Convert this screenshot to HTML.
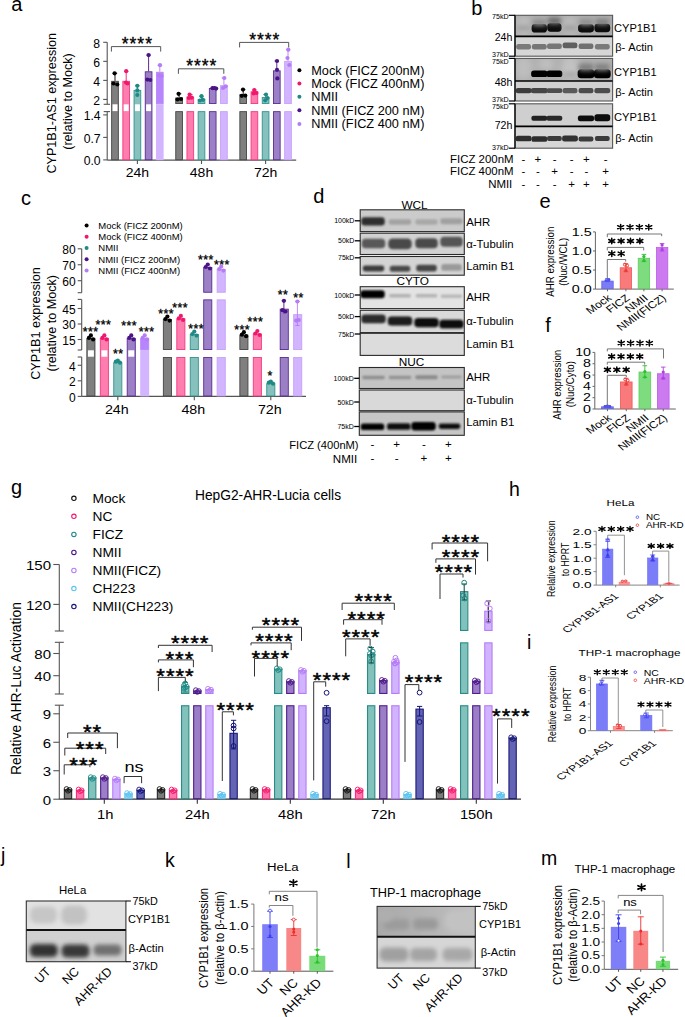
<!DOCTYPE html>
<html><head><meta charset="utf-8"><style>
html,body{margin:0;padding:0;background:#fff;}
svg{display:block;font-family:"Liberation Sans",sans-serif;}
</style></head><body>
<svg width="685" height="1017" viewBox="0 0 685 1017">
<defs>
<filter id="b1" x="-30%" y="-60%" width="160%" height="220%"><feGaussianBlur stdDeviation="1.2"/></filter>
<filter id="b2" x="-30%" y="-60%" width="160%" height="220%"><feGaussianBlur stdDeviation="0.8"/></filter>
<filter id="b4" x="-30%" y="-60%" width="160%" height="220%"><feGaussianBlur stdDeviation="0.55"/></filter>
<filter id="b5" x="-50%" y="-80%" width="200%" height="260%"><feGaussianBlur stdDeviation="3.5"/></filter>
<filter id="b3" x="-30%" y="-60%" width="160%" height="220%"><feGaussianBlur stdDeviation="2"/></filter>
</defs>
<rect width="685" height="1017" fill="#fff"/>
<text x="11.3" y="11.2" font-size="20">a</text>
<line x1="107.2" y1="42.3" x2="107.2" y2="104.3" stroke="#555" stroke-width="1.1"/>
<line x1="107.2" y1="111.6" x2="107.2" y2="159.9" stroke="#555" stroke-width="1.1"/>
<line x1="103.2" y1="42.3" x2="107.2" y2="42.3" stroke="#555" stroke-width="1.1"/>
<text x="100" y="47.5" font-size="12.2" text-anchor="end">8</text>
<line x1="103.2" y1="61.34" x2="107.2" y2="61.34" stroke="#555" stroke-width="1.1"/>
<text x="100" y="66.54" font-size="12.2" text-anchor="end">6</text>
<line x1="103.2" y1="80.38" x2="107.2" y2="80.38" stroke="#555" stroke-width="1.1"/>
<text x="100" y="85.58" font-size="12.2" text-anchor="end">4</text>
<line x1="103.2" y1="99.42" x2="107.2" y2="99.42" stroke="#555" stroke-width="1.1"/>
<text x="100" y="104.62" font-size="12.2" text-anchor="end">2</text>
<line x1="103.2" y1="114.9" x2="107.2" y2="114.9" stroke="#555" stroke-width="1.1"/>
<text x="100.6" y="120.3" font-size="12.2" text-anchor="end">1.4</text>
<line x1="103.2" y1="137.4" x2="107.2" y2="137.4" stroke="#555" stroke-width="1.1"/>
<text x="100.6" y="142.8" font-size="12.2" text-anchor="end">0.7</text>
<line x1="103.2" y1="159.9" x2="107.2" y2="159.9" stroke="#555" stroke-width="1.1"/>
<text x="100.6" y="165.3" font-size="12.2" text-anchor="end">0.0</text>
<line x1="103.7" y1="104.3" x2="110" y2="104.3" stroke="#555" stroke-width="1.1"/>
<line x1="103.7" y1="111.6" x2="110" y2="111.6" stroke="#555" stroke-width="1.1"/>
<line x1="107.2" y1="160.2" x2="296.2" y2="160.2" stroke="#555" stroke-width="1.2"/>
<rect x="111.65" y="81.31" width="6.7" height="78.44" fill="#7f7f7f" stroke="#454545" stroke-width="0.9"/>
<rect x="112.5" y="104.3" width="5" height="6.8" fill="#fff"/>
<line x1="115" y1="73.3" x2="115" y2="80.86" stroke="#000" stroke-width="0.9"/>
<line x1="112.8" y1="73.3" x2="117.2" y2="73.3" stroke="#000" stroke-width="0.9"/>
<circle cx="114.6" cy="73.3" r="2.1" fill="#000"/>
<circle cx="113.5" cy="83.5" r="2.1" fill="#000"/>
<circle cx="117.3" cy="84.5" r="2.1" fill="#000"/>
<rect x="122.85" y="81.31" width="6.7" height="78.44" fill="#ff7daf" stroke="#f23a80" stroke-width="0.9"/>
<rect x="123.7" y="104.3" width="5" height="6.8" fill="#fff"/>
<line x1="126.2" y1="71.2" x2="126.2" y2="80.86" stroke="#f0186a" stroke-width="0.9"/>
<line x1="124" y1="71.2" x2="128.4" y2="71.2" stroke="#f0186a" stroke-width="0.9"/>
<circle cx="126.2" cy="71.2" r="2.1" fill="#f0186a"/>
<circle cx="126" cy="82.5" r="2.1" fill="#f0186a"/>
<circle cx="127.5" cy="83.5" r="2.1" fill="#f0186a"/>
<rect x="134.05" y="90.35" width="6.7" height="69.4" fill="#86c1bd" stroke="#329390" stroke-width="0.9"/>
<rect x="134.9" y="104.3" width="5" height="6.8" fill="#fff"/>
<line x1="137.4" y1="85.8" x2="137.4" y2="89.9" stroke="#1f8a85" stroke-width="0.9"/>
<line x1="135.2" y1="85.8" x2="139.6" y2="85.8" stroke="#1f8a85" stroke-width="0.9"/>
<circle cx="137.3" cy="85.8" r="2.1" fill="#1f8a85"/>
<circle cx="137.3" cy="90.4" r="2.1" fill="#1f8a85"/>
<circle cx="137.3" cy="95" r="2.1" fill="#1f8a85"/>
<rect x="145.25" y="71.79" width="6.7" height="87.96" fill="#9c80c6" stroke="#5a2b95" stroke-width="0.9"/>
<rect x="146.1" y="104.3" width="5" height="6.8" fill="#fff"/>
<line x1="148.6" y1="55.1" x2="148.6" y2="71.34" stroke="#4a1486" stroke-width="0.9"/>
<line x1="146.4" y1="55.1" x2="150.8" y2="55.1" stroke="#4a1486" stroke-width="0.9"/>
<circle cx="148.6" cy="55.1" r="2.1" fill="#4a1486"/>
<circle cx="147.3" cy="79.6" r="2.1" fill="#4a1486"/>
<circle cx="150.3" cy="80" r="2.1" fill="#4a1486"/>
<rect x="156.45" y="72.26" width="6.7" height="31.49" fill="#b886fc" stroke="#b886fc" stroke-width="0.9"/>
<rect x="156" y="104.2" width="7.6" height="56" fill="#d3b4fe"/>
<line x1="159.8" y1="65.2" x2="159.8" y2="71.81" stroke="#b57cf6" stroke-width="0.9"/>
<line x1="157.6" y1="65.2" x2="162" y2="65.2" stroke="#b57cf6" stroke-width="0.9"/>
<circle cx="160" cy="65.2" r="2.1" fill="#b57cf6"/>
<circle cx="159" cy="75.5" r="2.1" fill="#b57cf6"/>
<circle cx="161.5" cy="76" r="2.1" fill="#b57cf6"/>
<line x1="137.4" y1="160.2" x2="137.4" y2="164" stroke="#555" stroke-width="1.1"/>
<text transform="translate(137.4 176.8) scale(1.08 1)" font-size="13" text-anchor="middle">24h</text>
<rect x="175.75" y="97.97" width="6.7" height="5.58" fill="#7f7f7f" stroke="#454545" stroke-width="0.9"/>
<rect x="175.75" y="111.65" width="6.7" height="48.1" fill="#7f7f7f" stroke="#454545" stroke-width="0.9"/>
<line x1="179.1" y1="93.8" x2="179.1" y2="97.52" stroke="#000" stroke-width="0.9"/>
<line x1="176.9" y1="93.8" x2="181.3" y2="93.8" stroke="#000" stroke-width="0.9"/>
<circle cx="178.6" cy="93.8" r="2.1" fill="#000"/>
<circle cx="177.5" cy="99.5" r="2.1" fill="#000"/>
<circle cx="181" cy="99" r="2.1" fill="#000"/>
<rect x="186.95" y="97.01" width="6.7" height="6.54" fill="#ff7daf" stroke="#f23a80" stroke-width="0.9"/>
<rect x="186.95" y="111.65" width="6.7" height="48.1" fill="#ff7daf" stroke="#f23a80" stroke-width="0.9"/>
<line x1="190.3" y1="94.5" x2="190.3" y2="96.56" stroke="#f0186a" stroke-width="0.9"/>
<line x1="188.1" y1="94.5" x2="192.5" y2="94.5" stroke="#f0186a" stroke-width="0.9"/>
<circle cx="189.6" cy="94.5" r="2.1" fill="#f0186a"/>
<circle cx="188.8" cy="98" r="2.1" fill="#f0186a"/>
<circle cx="191.6" cy="97.7" r="2.1" fill="#f0186a"/>
<rect x="198.15" y="99.39" width="6.7" height="4.16" fill="#86c1bd" stroke="#329390" stroke-width="0.9"/>
<rect x="198.15" y="111.65" width="6.7" height="48.1" fill="#86c1bd" stroke="#329390" stroke-width="0.9"/>
<line x1="201.5" y1="96.2" x2="201.5" y2="98.94" stroke="#1f8a85" stroke-width="0.9"/>
<line x1="199.3" y1="96.2" x2="203.7" y2="96.2" stroke="#1f8a85" stroke-width="0.9"/>
<circle cx="201.5" cy="96.2" r="2.1" fill="#1f8a85"/>
<circle cx="200" cy="100.5" r="2.1" fill="#1f8a85"/>
<circle cx="203" cy="99.8" r="2.1" fill="#1f8a85"/>
<rect x="209.35" y="88.45" width="6.7" height="15.1" fill="#9c80c6" stroke="#5a2b95" stroke-width="0.9"/>
<rect x="209.35" y="111.65" width="6.7" height="48.1" fill="#9c80c6" stroke="#5a2b95" stroke-width="0.9"/>
<line x1="212.7" y1="88" x2="212.7" y2="88" stroke="#4a1486" stroke-width="0.9"/>
<line x1="210.5" y1="88" x2="214.9" y2="88" stroke="#4a1486" stroke-width="0.9"/>
<circle cx="212.5" cy="88.2" r="2.1" fill="#4a1486"/>
<circle cx="214.5" cy="88" r="2.1" fill="#4a1486"/>
<circle cx="216.2" cy="88.6" r="2.1" fill="#4a1486"/>
<rect x="220.55" y="85.59" width="6.7" height="17.96" fill="#d3b4fe" stroke="#c6a2fa" stroke-width="0.9"/>
<rect x="220.55" y="111.65" width="6.7" height="48.1" fill="#d3b4fe" stroke="#c6a2fa" stroke-width="0.9"/>
<line x1="223.9" y1="78" x2="223.9" y2="85.14" stroke="#b57cf6" stroke-width="0.9"/>
<line x1="221.7" y1="78" x2="226.1" y2="78" stroke="#b57cf6" stroke-width="0.9"/>
<circle cx="224.3" cy="78" r="2.1" fill="#b57cf6"/>
<circle cx="223" cy="88" r="2.1" fill="#b57cf6"/>
<circle cx="225.7" cy="86.3" r="2.1" fill="#b57cf6"/>
<line x1="201.5" y1="160.2" x2="201.5" y2="164" stroke="#555" stroke-width="1.1"/>
<text transform="translate(201.5 176.8) scale(1.08 1)" font-size="13" text-anchor="middle">48h</text>
<rect x="239.85" y="94.63" width="6.7" height="8.92" fill="#7f7f7f" stroke="#454545" stroke-width="0.9"/>
<rect x="239.85" y="111.65" width="6.7" height="48.1" fill="#7f7f7f" stroke="#454545" stroke-width="0.9"/>
<line x1="243.2" y1="89.6" x2="243.2" y2="94.18" stroke="#000" stroke-width="0.9"/>
<line x1="241" y1="89.6" x2="245.4" y2="89.6" stroke="#000" stroke-width="0.9"/>
<circle cx="243" cy="89.6" r="2.1" fill="#000"/>
<circle cx="241.8" cy="95.8" r="2.1" fill="#000"/>
<circle cx="245.3" cy="95.6" r="2.1" fill="#000"/>
<rect x="251.05" y="91.78" width="6.7" height="11.77" fill="#ff7daf" stroke="#f23a80" stroke-width="0.9"/>
<rect x="251.05" y="111.65" width="6.7" height="48.1" fill="#ff7daf" stroke="#f23a80" stroke-width="0.9"/>
<line x1="254.4" y1="90" x2="254.4" y2="91.33" stroke="#f0186a" stroke-width="0.9"/>
<line x1="252.2" y1="90" x2="256.6" y2="90" stroke="#f0186a" stroke-width="0.9"/>
<circle cx="254.3" cy="90" r="2.1" fill="#f0186a"/>
<circle cx="253.5" cy="93.4" r="2.1" fill="#f0186a"/>
<circle cx="256.4" cy="93" r="2.1" fill="#f0186a"/>
<rect x="262.25" y="97.49" width="6.7" height="6.06" fill="#86c1bd" stroke="#329390" stroke-width="0.9"/>
<rect x="262.25" y="111.65" width="6.7" height="48.1" fill="#86c1bd" stroke="#329390" stroke-width="0.9"/>
<line x1="265.6" y1="94.5" x2="265.6" y2="97.04" stroke="#1f8a85" stroke-width="0.9"/>
<line x1="263.4" y1="94.5" x2="267.8" y2="94.5" stroke="#1f8a85" stroke-width="0.9"/>
<circle cx="266" cy="94.5" r="2.1" fill="#1f8a85"/>
<circle cx="267.5" cy="98" r="2.1" fill="#1f8a85"/>
<circle cx="265.2" cy="100.3" r="2.1" fill="#1f8a85"/>
<rect x="273.45" y="70.83" width="6.7" height="32.72" fill="#9c80c6" stroke="#5a2b95" stroke-width="0.9"/>
<rect x="273.45" y="111.65" width="6.7" height="48.1" fill="#9c80c6" stroke="#5a2b95" stroke-width="0.9"/>
<line x1="276.8" y1="61" x2="276.8" y2="70.38" stroke="#4a1486" stroke-width="0.9"/>
<line x1="274.6" y1="61" x2="279" y2="61" stroke="#4a1486" stroke-width="0.9"/>
<circle cx="277" cy="61" r="2.1" fill="#4a1486"/>
<circle cx="277" cy="69.8" r="2.1" fill="#4a1486"/>
<circle cx="277.3" cy="78.4" r="2.1" fill="#4a1486"/>
<rect x="284.65" y="61.31" width="6.7" height="42.24" fill="#d3b4fe" stroke="#c6a2fa" stroke-width="0.9"/>
<rect x="284.65" y="111.65" width="6.7" height="48.1" fill="#d3b4fe" stroke="#c6a2fa" stroke-width="0.9"/>
<line x1="288" y1="49.7" x2="288" y2="60.86" stroke="#b57cf6" stroke-width="0.9"/>
<line x1="285.8" y1="49.7" x2="290.2" y2="49.7" stroke="#b57cf6" stroke-width="0.9"/>
<circle cx="288.3" cy="49.7" r="2.1" fill="#b57cf6"/>
<circle cx="287.5" cy="58" r="2.1" fill="#b57cf6"/>
<circle cx="289.3" cy="65" r="2.1" fill="#b57cf6"/>
<line x1="265.6" y1="160.2" x2="265.6" y2="164" stroke="#555" stroke-width="1.1"/>
<text transform="translate(265.6 176.8) scale(1.08 1)" font-size="13" text-anchor="middle">72h</text>
<path d="M111.4 51.6V46.6H160.7V51.6" stroke="#555" stroke-width="1" fill="none"/>
<text x="121.74" y="50.15" font-size="17.5" stroke="#000" stroke-width="0.35" stroke-linejoin="round">*</text>
<text x="129.54" y="50.15" font-size="17.5" stroke="#000" stroke-width="0.35" stroke-linejoin="round">*</text>
<text x="137.34" y="50.15" font-size="17.5" stroke="#000" stroke-width="0.35" stroke-linejoin="round">*</text>
<text x="145.14" y="50.15" font-size="17.5" stroke="#000" stroke-width="0.35" stroke-linejoin="round">*</text>
<path d="M178.4 73.8V68.8H223.8V73.8" stroke="#555" stroke-width="1" fill="none"/>
<text x="186.19" y="72.35" font-size="17.5" stroke="#000" stroke-width="0.35" stroke-linejoin="round">*</text>
<text x="193.99" y="72.35" font-size="17.5" stroke="#000" stroke-width="0.35" stroke-linejoin="round">*</text>
<text x="201.79" y="72.35" font-size="17.5" stroke="#000" stroke-width="0.35" stroke-linejoin="round">*</text>
<text x="209.59" y="72.35" font-size="17.5" stroke="#000" stroke-width="0.35" stroke-linejoin="round">*</text>
<path d="M239.6 47.4V42.4H288.7V47.4" stroke="#555" stroke-width="1" fill="none"/>
<text x="249.19" y="45.95" font-size="17.5" stroke="#000" stroke-width="0.35" stroke-linejoin="round">*</text>
<text x="256.99" y="45.95" font-size="17.5" stroke="#000" stroke-width="0.35" stroke-linejoin="round">*</text>
<text x="264.79" y="45.95" font-size="17.5" stroke="#000" stroke-width="0.35" stroke-linejoin="round">*</text>
<text x="272.59" y="45.95" font-size="17.5" stroke="#000" stroke-width="0.35" stroke-linejoin="round">*</text>
<circle cx="299.4" cy="70.3" r="2" fill="#000"/>
<text transform="translate(311.2 74.7) scale(1.02 1)" font-size="12.5">Mock (FICZ 200nM)</text>
<circle cx="299.4" cy="83.5" r="2" fill="#f0186a"/>
<text transform="translate(311.2 87.9) scale(1.02 1)" font-size="12.5">Mock (FICZ 400nM)</text>
<circle cx="299.4" cy="96.7" r="2" fill="#1f8a85"/>
<text transform="translate(311.2 101.1) scale(1.02 1)" font-size="12.5">NMII</text>
<circle cx="299.4" cy="110.3" r="2" fill="#4a1486"/>
<text transform="translate(311.2 114.7) scale(1.02 1)" font-size="12.5">NMII (FICZ 200 nM)</text>
<circle cx="299.4" cy="124" r="2" fill="#b57cf6"/>
<text transform="translate(311.2 128.4) scale(1.02 1)" font-size="12.5">NMII (FICZ 400 nM)</text>
<text transform="translate(55.8 103.2) scale(1.05 1) rotate(-90)" font-size="12.6" text-anchor="middle">CYP1B1-AS1 expression</text>
<text transform="translate(72 101.5) scale(1.05 1) rotate(-90)" font-size="12.6" text-anchor="middle">(relative to Mock)</text>
<text x="471.2" y="15" font-size="20">b</text>
<clipPath id="c159"><rect x="515" y="15.3" width="97.6" height="21.1"/></clipPath>
<g clip-path="url(#c159)">
<rect x="515" y="15.3" width="97.6" height="21.1" fill="#ababab"/>
<rect x="515.2" y="15.2" width="16.8" height="21.6" rx="8.64" fill="#bdbdbd" filter="url(#b5)"/>
<rect x="561.6" y="15.2" width="16.8" height="21.6" rx="8.64" fill="#bababa" filter="url(#b5)"/>
<rect x="516.2" y="25" width="14.8" height="6" rx="2.4" fill="#a4a4a4" filter="url(#b3)"/>
<rect x="531.65" y="23.98" width="15.3" height="8.64" rx="3.46" fill="#080808" filter="url(#b4)"/>
<rect x="532.4" y="20" width="13.8" height="6" rx="2.4" fill="#8a8a8a" filter="url(#b3)"/>
<rect x="547.25" y="23.3" width="14.3" height="8.4" rx="3.36" fill="#080808" filter="url(#b4)"/>
<rect x="548" y="17.4" width="12.8" height="7.2" rx="2.88" fill="#6e6e6e" filter="url(#b3)"/>
<rect x="563.1" y="25.6" width="13.8" height="4.8" rx="1.92" fill="#a0a0a0" filter="url(#b3)"/>
<rect x="578.1" y="24.22" width="15.8" height="8.16" rx="3.26" fill="#080808" filter="url(#b4)"/>
<rect x="579.1" y="19.5" width="13.8" height="6" rx="2.4" fill="#8e8e8e" filter="url(#b3)"/>
<rect x="594.4" y="23.68" width="15.8" height="8.64" rx="3.46" fill="#080808" filter="url(#b4)"/>
<rect x="595.4" y="19" width="13.8" height="6" rx="2.4" fill="#808080" filter="url(#b3)"/>
</g>
<clipPath id="c175"><rect x="515" y="36.4" width="97.6" height="19.8"/></clipPath>
<g clip-path="url(#c175)">
<rect x="515" y="36.4" width="97.6" height="19.8" fill="#d6d6d6"/>
<rect x="516.2" y="44.04" width="14.8" height="5.52" rx="2.21" fill="#7a7a7a" filter="url(#b4)"/>
<rect x="531.9" y="44.04" width="14.8" height="5.52" rx="2.21" fill="#767676" filter="url(#b4)"/>
<rect x="547" y="43.54" width="14.8" height="5.52" rx="2.21" fill="#767676" filter="url(#b4)"/>
<rect x="562.6" y="42.42" width="14.8" height="5.76" rx="2.3" fill="#606060" filter="url(#b4)"/>
<rect x="578.6" y="43.54" width="14.8" height="5.52" rx="2.21" fill="#707070" filter="url(#b4)"/>
<rect x="594.9" y="44.04" width="14.8" height="5.52" rx="2.21" fill="#7a7a7a" filter="url(#b4)"/>
</g>
<clipPath id="c185"><rect x="515" y="58.4" width="97.6" height="22.6"/></clipPath>
<g clip-path="url(#c185)">
<rect x="515" y="58.4" width="97.6" height="22.6" fill="#aeaeae"/>
<rect x="514.7" y="56" width="17.8" height="24" rx="9.6" fill="#bebebe" filter="url(#b5)"/>
<rect x="561.1" y="56" width="17.8" height="24" rx="9.6" fill="#c2c2c2" filter="url(#b5)"/>
<rect x="538.4" y="58" width="15.8" height="12" rx="4.8" fill="#c0c0c0" filter="url(#b5)"/>
<rect x="531.15" y="70.5" width="16.3" height="6.6" rx="2.64" fill="#030303" filter="url(#b4)"/>
<rect x="546.5" y="70.5" width="15.8" height="6.6" rx="2.64" fill="#030303" filter="url(#b4)"/>
<rect x="563.6" y="72.2" width="12.8" height="4.2" rx="1.68" fill="#a6a6a6" filter="url(#b3)"/>
<rect x="577.6" y="69.3" width="16.8" height="9" rx="3.6" fill="#000" filter="url(#b4)"/>
<rect x="578.6" y="63.7" width="14.8" height="7.2" rx="2.88" fill="#7e7e7e" filter="url(#b3)"/>
<rect x="593.9" y="69.3" width="16.8" height="9" rx="3.6" fill="#000" filter="url(#b4)"/>
<rect x="594.9" y="63.7" width="14.8" height="7.2" rx="2.88" fill="#828282" filter="url(#b3)"/>
</g>
<clipPath id="c199"><rect x="515" y="81" width="97.6" height="20"/></clipPath>
<g clip-path="url(#c199)">
<rect x="515" y="81" width="97.6" height="20" fill="#d0d0d0"/>
<rect x="515.7" y="87.9" width="15.8" height="5.4" rx="2.16" fill="#3e3e3e" filter="url(#b4)"/>
<rect x="530.9" y="87.9" width="16.8" height="5.4" rx="2.16" fill="#444" filter="url(#b4)"/>
<rect x="546.5" y="88.2" width="15.8" height="4.8" rx="1.92" fill="#4e4e4e" filter="url(#b4)"/>
<rect x="562.6" y="87.9" width="14.8" height="5.4" rx="2.16" fill="#5a5a5a" filter="url(#b4)"/>
<rect x="578.6" y="87.9" width="14.8" height="5.4" rx="2.16" fill="#4e4e4e" filter="url(#b4)"/>
<rect x="594.4" y="87.9" width="15.8" height="5.4" rx="2.16" fill="#4e4e4e" filter="url(#b4)"/>
</g>
<clipPath id="c209"><rect x="515" y="103.8" width="97.6" height="22.5"/></clipPath>
<g clip-path="url(#c209)">
<rect x="515" y="103.8" width="97.6" height="22.5" fill="#cfcfcf"/>
<rect x="531.4" y="115.78" width="15.8" height="5.04" rx="2.02" fill="#222" filter="url(#b4)"/>
<rect x="546.5" y="115.78" width="15.8" height="5.04" rx="2.02" fill="#2a2a2a" filter="url(#b4)"/>
<rect x="577.85" y="115.42" width="16.3" height="5.76" rx="2.3" fill="#111" filter="url(#b4)"/>
<rect x="594.4" y="114.32" width="15.8" height="6.96" rx="2.78" fill="#080808" filter="url(#b4)"/>
</g>
<clipPath id="c217"><rect x="515" y="126.3" width="97.6" height="21.9"/></clipPath>
<g clip-path="url(#c217)">
<rect x="515" y="126.3" width="97.6" height="21.9" fill="#d6d6d6"/>
<rect x="515.7" y="135.84" width="15.8" height="5.52" rx="2.21" fill="#2e2e2e" filter="url(#b4)"/>
<rect x="531.4" y="136.34" width="15.8" height="5.52" rx="2.21" fill="#2e2e2e" filter="url(#b4)"/>
<rect x="547" y="136.08" width="14.8" height="5.04" rx="2.02" fill="#3a3a3a" filter="url(#b4)"/>
<rect x="562.1" y="135.6" width="15.8" height="6" rx="2.4" fill="#333" filter="url(#b4)"/>
<rect x="578.6" y="136.58" width="14.8" height="5.04" rx="2.02" fill="#3a3a3a" filter="url(#b4)"/>
<rect x="594.9" y="136.08" width="14.8" height="5.04" rx="2.02" fill="#3a3a3a" filter="url(#b4)"/>
</g>
<rect x="515" y="15.3" width="97.6" height="40.9" fill="none" stroke="#555" stroke-width="1.1"/>
<line x1="515" y1="15.3" x2="515" y2="56.2" stroke="#111" stroke-width="1.4"/>
<line x1="515" y1="36.4" x2="612.6" y2="36.4" stroke="#000" stroke-width="1.7"/>
<line x1="508.8" y1="15.3" x2="515" y2="15.3" stroke="#000" stroke-width="1.2"/>
<line x1="508.8" y1="56.2" x2="515" y2="56.2" stroke="#000" stroke-width="1.2"/>
<text x="508.6" y="19" font-size="7.1" text-anchor="end">75kD</text>
<text x="508.6" y="57.4" font-size="7.1" text-anchor="end">37kD</text>
<text x="512.4" y="40.8" font-size="10.6" text-anchor="end">24h</text>
<text x="614" y="31.85" font-size="11.1">CYP1B1</text>
<text x="615.2" y="51.3" font-size="11.1">β- Actin</text>
<rect x="515" y="58.4" width="97.6" height="42.6" fill="none" stroke="#555" stroke-width="1.1"/>
<line x1="515" y1="58.4" x2="515" y2="101" stroke="#111" stroke-width="1.4"/>
<line x1="515" y1="81" x2="612.6" y2="81" stroke="#000" stroke-width="1.7"/>
<line x1="508.8" y1="58.4" x2="515" y2="58.4" stroke="#000" stroke-width="1.2"/>
<line x1="508.8" y1="101" x2="515" y2="101" stroke="#000" stroke-width="1.2"/>
<text x="508.6" y="63.6" font-size="7.1" text-anchor="end">75kD</text>
<text x="508.6" y="102.2" font-size="7.1" text-anchor="end">37kD</text>
<text x="512.4" y="86.1" font-size="10.6" text-anchor="end">48h</text>
<text x="614" y="75.7" font-size="11.1">CYP1B1</text>
<text x="615.2" y="96" font-size="11.1">β- Actin</text>
<rect x="515" y="103.8" width="97.6" height="44.4" fill="none" stroke="#555" stroke-width="1.1"/>
<line x1="515" y1="103.8" x2="515" y2="148.2" stroke="#111" stroke-width="1.4"/>
<line x1="515" y1="126.3" x2="612.6" y2="126.3" stroke="#000" stroke-width="1.7"/>
<line x1="508.8" y1="103.8" x2="515" y2="103.8" stroke="#000" stroke-width="1.2"/>
<line x1="508.8" y1="148.2" x2="515" y2="148.2" stroke="#000" stroke-width="1.2"/>
<text x="508.6" y="109" font-size="7.1" text-anchor="end">75kD</text>
<text x="508.6" y="150.4" font-size="7.1" text-anchor="end">37kD</text>
<text x="512.4" y="129" font-size="10.6" text-anchor="end">72h</text>
<text x="614" y="121.05" font-size="11.1">CYP1B1</text>
<text x="615.2" y="142.25" font-size="11.1">β- Actin</text>
<text x="513.6" y="162.6" font-size="11.45" text-anchor="end">FICZ 200nM</text>
<text x="523.3" y="162.6" font-size="11.5" text-anchor="middle">-</text>
<text x="537.9" y="162.6" font-size="11.5" text-anchor="middle">+</text>
<text x="554.6" y="162.6" font-size="11.5" text-anchor="middle">-</text>
<text x="571.6" y="162.6" font-size="11.5" text-anchor="middle">-</text>
<text x="586.3" y="162.6" font-size="11.5" text-anchor="middle">+</text>
<text x="605.7" y="162.6" font-size="11.5" text-anchor="middle">-</text>
<text x="513.6" y="175.2" font-size="11.45" text-anchor="end">FICZ 400nM</text>
<text x="523.3" y="175.2" font-size="11.5" text-anchor="middle">-</text>
<text x="537.9" y="175.2" font-size="11.5" text-anchor="middle">-</text>
<text x="554.6" y="175.2" font-size="11.5" text-anchor="middle">+</text>
<text x="571.6" y="175.2" font-size="11.5" text-anchor="middle">-</text>
<text x="586.3" y="175.2" font-size="11.5" text-anchor="middle">-</text>
<text x="605.7" y="175.2" font-size="11.5" text-anchor="middle">+</text>
<text x="512.3" y="187.5" font-size="11.45" text-anchor="end">NMII</text>
<text x="523.3" y="187.5" font-size="11.5" text-anchor="middle">-</text>
<text x="537.9" y="187.5" font-size="11.5" text-anchor="middle">-</text>
<text x="554.6" y="187.5" font-size="11.5" text-anchor="middle">-</text>
<text x="571.6" y="187.5" font-size="11.5" text-anchor="middle">+</text>
<text x="586.3" y="187.5" font-size="11.5" text-anchor="middle">+</text>
<text x="605.7" y="187.5" font-size="11.5" text-anchor="middle">+</text>
<text x="20.9" y="205.2" font-size="20">c</text>
<line x1="81.7" y1="248.8" x2="81.7" y2="292.7" stroke="#555" stroke-width="1.1"/>
<line x1="81.7" y1="299.4" x2="81.7" y2="350" stroke="#555" stroke-width="1.1"/>
<line x1="81.7" y1="357" x2="81.7" y2="396.4" stroke="#555" stroke-width="1.1"/>
<line x1="77.7" y1="292.7" x2="81.7" y2="292.7" stroke="#555" stroke-width="1.1"/>
<line x1="77.7" y1="299.4" x2="81.7" y2="299.4" stroke="#555" stroke-width="1.1"/>
<line x1="77.7" y1="350" x2="81.7" y2="350" stroke="#555" stroke-width="1.1"/>
<line x1="77.7" y1="357" x2="81.7" y2="357" stroke="#555" stroke-width="1.1"/>
<line x1="77.7" y1="248.8" x2="81.7" y2="248.8" stroke="#555" stroke-width="1.1"/>
<text x="75.6" y="254.2" font-size="12" text-anchor="end">80</text>
<line x1="77.7" y1="264.75" x2="81.7" y2="264.75" stroke="#555" stroke-width="1.1"/>
<text x="75.6" y="270.15" font-size="12" text-anchor="end">70</text>
<line x1="77.7" y1="280.7" x2="81.7" y2="280.7" stroke="#555" stroke-width="1.1"/>
<text x="75.6" y="286.1" font-size="12" text-anchor="end">60</text>
<line x1="77.7" y1="308.51" x2="81.7" y2="308.51" stroke="#555" stroke-width="1.1"/>
<text x="75.6" y="313.91" font-size="12" text-anchor="end">45</text>
<line x1="77.7" y1="324" x2="81.7" y2="324" stroke="#555" stroke-width="1.1"/>
<text x="75.6" y="329.4" font-size="12" text-anchor="end">30</text>
<line x1="77.7" y1="339.5" x2="81.7" y2="339.5" stroke="#555" stroke-width="1.1"/>
<text x="75.6" y="344.9" font-size="12" text-anchor="end">15</text>
<line x1="77.7" y1="365.28" x2="81.7" y2="365.28" stroke="#555" stroke-width="1.1"/>
<text x="75.6" y="370.68" font-size="12" text-anchor="end">4</text>
<line x1="77.7" y1="380.84" x2="81.7" y2="380.84" stroke="#555" stroke-width="1.1"/>
<text x="75.6" y="386.24" font-size="12" text-anchor="end">2</text>
<line x1="77.7" y1="396.4" x2="81.7" y2="396.4" stroke="#555" stroke-width="1.1"/>
<text x="75.6" y="401.8" font-size="12" text-anchor="end">0</text>
<line x1="81.7" y1="396.4" x2="306" y2="396.4" stroke="#555" stroke-width="1.2"/>
<rect x="86.85" y="338.4" width="8.1" height="57.55" fill="#7f7f7f" stroke="#454545" stroke-width="0.9"/>
<rect x="87.9" y="350.3" width="6" height="6.4" fill="#fff"/>
<circle cx="88.9" cy="337.95" r="2.1" fill="#000"/>
<circle cx="93.1" cy="339.45" r="2.1" fill="#000"/>
<circle cx="90.9" cy="335.45" r="2.1" fill="#000"/>
<rect x="100.3" y="338.4" width="8.1" height="57.55" fill="#ff7daf" stroke="#f23a80" stroke-width="0.9"/>
<rect x="101.35" y="350.3" width="6" height="6.4" fill="#fff"/>
<circle cx="102.35" cy="337.95" r="2.1" fill="#f0186a"/>
<circle cx="106.55" cy="339.45" r="2.1" fill="#f0186a"/>
<circle cx="104.35" cy="335.45" r="2.1" fill="#f0186a"/>
<rect x="113.75" y="362.62" width="8.1" height="33.33" fill="#86c1bd" stroke="#329390" stroke-width="0.9"/>
<circle cx="115.8" cy="361.67" r="2.1" fill="#1f8a85"/>
<circle cx="120" cy="362.67" r="2.1" fill="#1f8a85"/>
<circle cx="117.8" cy="360.67" r="2.1" fill="#1f8a85"/>
<rect x="127.2" y="338.4" width="8.1" height="57.55" fill="#9c80c6" stroke="#5a2b95" stroke-width="0.9"/>
<rect x="128.25" y="350.3" width="6" height="6.4" fill="#fff"/>
<circle cx="129.25" cy="337.95" r="2.1" fill="#4a1486"/>
<circle cx="133.45" cy="339.45" r="2.1" fill="#4a1486"/>
<circle cx="131.25" cy="335.45" r="2.1" fill="#4a1486"/>
<rect x="140.65" y="338.4" width="8.1" height="11.15" fill="#b886fc" stroke="#b886fc" stroke-width="0.9"/>
<rect x="140.2" y="350" width="9" height="46.4" fill="#d3b4fe"/>
<circle cx="142.7" cy="337.95" r="2.1" fill="#b57cf6"/>
<circle cx="146.9" cy="339.45" r="2.1" fill="#b57cf6"/>
<circle cx="144.7" cy="335.45" r="2.1" fill="#b57cf6"/>
<line x1="117.8" y1="396.4" x2="117.8" y2="400.2" stroke="#555" stroke-width="1.1"/>
<text transform="translate(116.8 413.5) scale(1.08 1)" font-size="13.2" text-anchor="middle">24h</text>
<rect x="163.35" y="319.5" width="8.1" height="30.05" fill="#7f7f7f" stroke="#454545" stroke-width="0.9"/>
<rect x="163.35" y="357.45" width="8.1" height="38.5" fill="#7f7f7f" stroke="#454545" stroke-width="0.9"/>
<circle cx="165.4" cy="319.05" r="2.1" fill="#000"/>
<circle cx="169.6" cy="320.55" r="2.1" fill="#000"/>
<circle cx="167.4" cy="316.55" r="2.1" fill="#000"/>
<rect x="176.8" y="318.88" width="8.1" height="30.67" fill="#ff7daf" stroke="#f23a80" stroke-width="0.9"/>
<rect x="176.8" y="357.45" width="8.1" height="38.5" fill="#ff7daf" stroke="#f23a80" stroke-width="0.9"/>
<circle cx="178.85" cy="318.43" r="2.1" fill="#f0186a"/>
<circle cx="183.05" cy="319.93" r="2.1" fill="#f0186a"/>
<circle cx="180.85" cy="315.93" r="2.1" fill="#f0186a"/>
<rect x="190.25" y="334.48" width="8.1" height="15.07" fill="#86c1bd" stroke="#329390" stroke-width="0.9"/>
<rect x="190.25" y="357.45" width="8.1" height="38.5" fill="#86c1bd" stroke="#329390" stroke-width="0.9"/>
<circle cx="192.3" cy="334.03" r="2.1" fill="#1f8a85"/>
<circle cx="196.5" cy="335.53" r="2.1" fill="#1f8a85"/>
<circle cx="194.3" cy="331.53" r="2.1" fill="#1f8a85"/>
<rect x="203.7" y="267.43" width="8.1" height="24.82" fill="#9c80c6" stroke="#5a2b95" stroke-width="0.9"/>
<rect x="203.7" y="299.85" width="8.1" height="49.7" fill="#9c80c6" stroke="#5a2b95" stroke-width="0.9"/>
<rect x="203.7" y="357.45" width="8.1" height="38.5" fill="#9c80c6" stroke="#5a2b95" stroke-width="0.9"/>
<circle cx="205.75" cy="266.98" r="2.1" fill="#4a1486"/>
<circle cx="209.95" cy="268.48" r="2.1" fill="#4a1486"/>
<circle cx="207.75" cy="264.48" r="2.1" fill="#4a1486"/>
<rect x="217.15" y="269.51" width="8.1" height="22.74" fill="#d3b4fe" stroke="#c6a2fa" stroke-width="0.9"/>
<rect x="217.15" y="299.85" width="8.1" height="49.7" fill="#d3b4fe" stroke="#c6a2fa" stroke-width="0.9"/>
<rect x="217.15" y="357.45" width="8.1" height="38.5" fill="#d3b4fe" stroke="#c6a2fa" stroke-width="0.9"/>
<circle cx="219.2" cy="269.06" r="2.1" fill="#b57cf6"/>
<circle cx="223.4" cy="270.56" r="2.1" fill="#b57cf6"/>
<circle cx="221.2" cy="266.56" r="2.1" fill="#b57cf6"/>
<line x1="194.3" y1="396.4" x2="194.3" y2="400.2" stroke="#555" stroke-width="1.1"/>
<text transform="translate(193.3 413.5) scale(1.08 1)" font-size="13.2" text-anchor="middle">48h</text>
<rect x="239.85" y="335.09" width="8.1" height="14.46" fill="#7f7f7f" stroke="#454545" stroke-width="0.9"/>
<rect x="239.85" y="357.45" width="8.1" height="38.5" fill="#7f7f7f" stroke="#454545" stroke-width="0.9"/>
<circle cx="241.9" cy="334.64" r="2.1" fill="#000"/>
<circle cx="246.1" cy="336.14" r="2.1" fill="#000"/>
<circle cx="243.9" cy="332.14" r="2.1" fill="#000"/>
<rect x="253.3" y="333.96" width="8.1" height="15.59" fill="#ff7daf" stroke="#f23a80" stroke-width="0.9"/>
<rect x="253.3" y="357.45" width="8.1" height="38.5" fill="#ff7daf" stroke="#f23a80" stroke-width="0.9"/>
<circle cx="255.35" cy="333.51" r="2.1" fill="#f0186a"/>
<circle cx="259.55" cy="335.01" r="2.1" fill="#f0186a"/>
<circle cx="257.35" cy="331.01" r="2.1" fill="#f0186a"/>
<rect x="266.75" y="383.62" width="8.1" height="12.33" fill="#86c1bd" stroke="#329390" stroke-width="0.9"/>
<circle cx="268.8" cy="382.67" r="2.1" fill="#1f8a85"/>
<circle cx="273" cy="383.67" r="2.1" fill="#1f8a85"/>
<circle cx="270.8" cy="381.67" r="2.1" fill="#1f8a85"/>
<rect x="280.2" y="309.17" width="8.1" height="40.38" fill="#9c80c6" stroke="#5a2b95" stroke-width="0.9"/>
<rect x="280.2" y="357.45" width="8.1" height="38.5" fill="#9c80c6" stroke="#5a2b95" stroke-width="0.9"/>
<rect x="293.65" y="314.64" width="8.1" height="34.91" fill="#d3b4fe" stroke="#c6a2fa" stroke-width="0.9"/>
<rect x="293.65" y="357.45" width="8.1" height="38.5" fill="#d3b4fe" stroke="#c6a2fa" stroke-width="0.9"/>
<line x1="270.8" y1="396.4" x2="270.8" y2="400.2" stroke="#555" stroke-width="1.1"/>
<text transform="translate(269.8 413.5) scale(1.08 1)" font-size="13.2" text-anchor="middle">72h</text>
<line x1="283.9" y1="300.8" x2="283.9" y2="313.7" stroke="#4a1486" stroke-width="0.9"/>
<line x1="281.7" y1="300.8" x2="286.1" y2="300.8" stroke="#4a1486" stroke-width="0.9"/>
<line x1="297.4" y1="301.5" x2="297.4" y2="325.5" stroke="#b57cf6" stroke-width="0.9"/>
<line x1="295.2" y1="301.5" x2="299.6" y2="301.5" stroke="#b57cf6" stroke-width="0.9"/>
<line x1="295.2" y1="325.5" x2="299.6" y2="325.5" stroke="#b57cf6" stroke-width="0.9"/>
<circle cx="283.9" cy="300.8" r="2.1" fill="#4a1486"/>
<circle cx="282.5" cy="310.2" r="2.1" fill="#4a1486"/>
<circle cx="285.5" cy="311.5" r="2.1" fill="#4a1486"/>
<circle cx="297.4" cy="301.5" r="2.1" fill="#b57cf6"/>
<circle cx="296.2" cy="320.6" r="2.1" fill="#b57cf6"/>
<circle cx="298.8" cy="320" r="2.1" fill="#b57cf6"/>
<text x="82.64" y="336.44" font-size="12.3" stroke="#000" stroke-width="0.3" stroke-linejoin="round">*</text>
<text x="87.9" y="336.44" font-size="12.3" stroke="#000" stroke-width="0.3" stroke-linejoin="round">*</text>
<text x="93.16" y="336.44" font-size="12.3" stroke="#000" stroke-width="0.3" stroke-linejoin="round">*</text>
<text x="95.54" y="329.04" font-size="12.3" stroke="#000" stroke-width="0.3" stroke-linejoin="round">*</text>
<text x="100.8" y="329.04" font-size="12.3" stroke="#000" stroke-width="0.3" stroke-linejoin="round">*</text>
<text x="106.06" y="329.04" font-size="12.3" stroke="#000" stroke-width="0.3" stroke-linejoin="round">*</text>
<text x="113.07" y="357.54" font-size="12.3" stroke="#000" stroke-width="0.3" stroke-linejoin="round">*</text>
<text x="118.33" y="357.54" font-size="12.3" stroke="#000" stroke-width="0.3" stroke-linejoin="round">*</text>
<text x="121.14" y="330.24" font-size="12.3" stroke="#000" stroke-width="0.3" stroke-linejoin="round">*</text>
<text x="126.4" y="330.24" font-size="12.3" stroke="#000" stroke-width="0.3" stroke-linejoin="round">*</text>
<text x="131.66" y="330.24" font-size="12.3" stroke="#000" stroke-width="0.3" stroke-linejoin="round">*</text>
<text x="138.74" y="335.94" font-size="12.3" stroke="#000" stroke-width="0.3" stroke-linejoin="round">*</text>
<text x="144" y="335.94" font-size="12.3" stroke="#000" stroke-width="0.3" stroke-linejoin="round">*</text>
<text x="149.26" y="335.94" font-size="12.3" stroke="#000" stroke-width="0.3" stroke-linejoin="round">*</text>
<text x="158.24" y="318.24" font-size="12.3" stroke="#000" stroke-width="0.3" stroke-linejoin="round">*</text>
<text x="163.5" y="318.24" font-size="12.3" stroke="#000" stroke-width="0.3" stroke-linejoin="round">*</text>
<text x="168.76" y="318.24" font-size="12.3" stroke="#000" stroke-width="0.3" stroke-linejoin="round">*</text>
<text x="172.14" y="311.74" font-size="12.3" stroke="#000" stroke-width="0.3" stroke-linejoin="round">*</text>
<text x="177.4" y="311.74" font-size="12.3" stroke="#000" stroke-width="0.3" stroke-linejoin="round">*</text>
<text x="182.66" y="311.74" font-size="12.3" stroke="#000" stroke-width="0.3" stroke-linejoin="round">*</text>
<text x="188.24" y="333.14" font-size="12.3" stroke="#000" stroke-width="0.3" stroke-linejoin="round">*</text>
<text x="193.5" y="333.14" font-size="12.3" stroke="#000" stroke-width="0.3" stroke-linejoin="round">*</text>
<text x="198.76" y="333.14" font-size="12.3" stroke="#000" stroke-width="0.3" stroke-linejoin="round">*</text>
<text x="197.94" y="263.64" font-size="12.3" stroke="#000" stroke-width="0.3" stroke-linejoin="round">*</text>
<text x="203.2" y="263.64" font-size="12.3" stroke="#000" stroke-width="0.3" stroke-linejoin="round">*</text>
<text x="208.46" y="263.64" font-size="12.3" stroke="#000" stroke-width="0.3" stroke-linejoin="round">*</text>
<text x="214.04" y="268.54" font-size="12.3" stroke="#000" stroke-width="0.3" stroke-linejoin="round">*</text>
<text x="219.3" y="268.54" font-size="12.3" stroke="#000" stroke-width="0.3" stroke-linejoin="round">*</text>
<text x="224.56" y="268.54" font-size="12.3" stroke="#000" stroke-width="0.3" stroke-linejoin="round">*</text>
<text x="234.34" y="333.54" font-size="12.3" stroke="#000" stroke-width="0.3" stroke-linejoin="round">*</text>
<text x="239.6" y="333.54" font-size="12.3" stroke="#000" stroke-width="0.3" stroke-linejoin="round">*</text>
<text x="244.86" y="333.54" font-size="12.3" stroke="#000" stroke-width="0.3" stroke-linejoin="round">*</text>
<text x="247.44" y="326.14" font-size="12.3" stroke="#000" stroke-width="0.3" stroke-linejoin="round">*</text>
<text x="252.7" y="326.14" font-size="12.3" stroke="#000" stroke-width="0.3" stroke-linejoin="round">*</text>
<text x="257.96" y="326.14" font-size="12.3" stroke="#000" stroke-width="0.3" stroke-linejoin="round">*</text>
<text x="267.6" y="380.24" font-size="12.3" stroke="#000" stroke-width="0.3" stroke-linejoin="round">*</text>
<text x="277.77" y="299.34" font-size="12.3" stroke="#000" stroke-width="0.3" stroke-linejoin="round">*</text>
<text x="283.03" y="299.34" font-size="12.3" stroke="#000" stroke-width="0.3" stroke-linejoin="round">*</text>
<text x="293.27" y="301.74" font-size="12.3" stroke="#000" stroke-width="0.3" stroke-linejoin="round">*</text>
<text x="298.53" y="301.74" font-size="12.3" stroke="#000" stroke-width="0.3" stroke-linejoin="round">*</text>
<circle cx="86.6" cy="225.6" r="2" fill="#000"/>
<text x="98.3" y="229" font-size="9.5">Mock (FICZ 200nM)</text>
<circle cx="86.6" cy="236.8" r="2" fill="#f0186a"/>
<text x="98.3" y="240.2" font-size="9.5">Mock (FICZ 400nM)</text>
<circle cx="86.6" cy="248" r="2" fill="#1f8a85"/>
<text x="98.3" y="251.4" font-size="9.5">NMII</text>
<circle cx="86.6" cy="259.2" r="2" fill="#4a1486"/>
<text x="98.3" y="262.6" font-size="9.5">NMII (FICZ 200nM)</text>
<circle cx="86.6" cy="270.4" r="2" fill="#b57cf6"/>
<text x="98.3" y="273.8" font-size="9.5">NMII (FICZ 400nM)</text>
<text transform="translate(39.8 323.5) scale(1.05 1) rotate(-90)" font-size="12.6" text-anchor="middle">CYP1B1 expression</text>
<text transform="translate(56 323.3) scale(1.05 1) rotate(-90)" font-size="12.6" text-anchor="middle">(relative to Mock)</text>
<text x="313.3" y="203" font-size="20">d</text>
<text x="414.5" y="209.3" font-size="11.8" text-anchor="middle">WCL</text>
<clipPath id="c445"><rect x="360.2" y="209.8" width="104.1" height="21.8"/></clipPath>
<g clip-path="url(#c445)">
<rect x="360.2" y="209.8" width="104.1" height="21.8" fill="#cbcbcb"/>
<rect x="361.25" y="217.35" width="23.5" height="8.1" rx="3.24" fill="#2e2e2e" filter="url(#b2)"/>
<rect x="388.75" y="219.3" width="22.5" height="5.4" rx="2.16" fill="#a2a2a2" filter="url(#b2)"/>
<rect x="415.25" y="219.3" width="22.5" height="5.4" rx="2.16" fill="#a8a8a8" filter="url(#b2)"/>
<rect x="440.25" y="218.16" width="22.5" height="6.08" rx="2.43" fill="#a0a0a0" filter="url(#b2)"/>
</g>
<rect x="360.2" y="209.8" width="104.1" height="21.8" fill="none" stroke="#2a2a2a" stroke-width="1.1"/>
<clipPath id="c454"><rect x="360.2" y="233.2" width="104.1" height="21.3"/></clipPath>
<g clip-path="url(#c454)">
<rect x="360.2" y="233.2" width="104.1" height="21.3" fill="#d2d2d2"/>
<rect x="361.75" y="238.78" width="23.5" height="9.45" rx="3.78" fill="#585858" filter="url(#b2)"/>
<rect x="388.25" y="238.4" width="23.5" height="10.8" rx="4.32" fill="#4a4a4a" filter="url(#b2)"/>
<rect x="415.25" y="238.14" width="22.5" height="10.12" rx="4.05" fill="#4a4a4a" filter="url(#b2)"/>
<rect x="440.25" y="236.74" width="22.5" height="10.12" rx="4.05" fill="#555" filter="url(#b2)"/>
</g>
<rect x="360.2" y="233.2" width="104.1" height="21.3" fill="none" stroke="#2a2a2a" stroke-width="1.1"/>
<clipPath id="c463"><rect x="360.2" y="256.5" width="104.1" height="18.7"/></clipPath>
<g clip-path="url(#c463)">
<rect x="360.2" y="256.5" width="104.1" height="18.7" fill="#d4d4d4"/>
<rect x="362.75" y="265.46" width="21.5" height="6.08" rx="2.43" fill="#3a3a3a" filter="url(#b2)"/>
<rect x="389.75" y="265.76" width="20.5" height="6.08" rx="2.43" fill="#4a4a4a" filter="url(#b2)"/>
<rect x="416.25" y="264.82" width="20.5" height="6.75" rx="2.7" fill="#444" filter="url(#b2)"/>
<rect x="441.25" y="264.12" width="20.5" height="6.75" rx="2.7" fill="#9a9a9a" filter="url(#b2)"/>
</g>
<rect x="360.2" y="256.5" width="104.1" height="18.7" fill="none" stroke="#2a2a2a" stroke-width="1.1"/>
<text x="412.7" y="284.9" font-size="11.8" text-anchor="middle">CYTO</text>
<clipPath id="c473"><rect x="360.2" y="286.7" width="104.1" height="21.9"/></clipPath>
<g clip-path="url(#c473)">
<rect x="360.2" y="286.7" width="104.1" height="21.9" fill="#e3e3e3"/>
<rect x="360.25" y="290.25" width="24.5" height="8.1" rx="3.24" fill="#000" filter="url(#b2)"/>
<rect x="389.25" y="294.11" width="21.5" height="3.38" rx="1.35" fill="#b0b0b0" filter="url(#b2)"/>
<rect x="415.75" y="294.11" width="21.5" height="3.38" rx="1.35" fill="#b4b4b4" filter="url(#b2)"/>
<rect x="440.75" y="294.51" width="21.5" height="3.38" rx="1.35" fill="#b8b8b8" filter="url(#b2)"/>
</g>
<rect x="360.2" y="286.7" width="104.1" height="21.9" fill="none" stroke="#2a2a2a" stroke-width="1.1"/>
<clipPath id="c482"><rect x="360.2" y="310.3" width="104.1" height="22.3"/></clipPath>
<g clip-path="url(#c482)">
<rect x="360.2" y="310.3" width="104.1" height="22.3" fill="#d9d9d9"/>
<rect x="361.25" y="314.51" width="24.5" height="8.78" rx="3.51" fill="#2a2a2a" filter="url(#b2)"/>
<rect x="387.75" y="316.61" width="24.5" height="8.78" rx="3.51" fill="#1a1a1a" filter="url(#b2)"/>
<rect x="414.25" y="317.88" width="24.5" height="9.45" rx="3.78" fill="#111" filter="url(#b2)"/>
<rect x="439.25" y="319.81" width="24.5" height="8.78" rx="3.51" fill="#111" filter="url(#b2)"/>
</g>
<rect x="360.2" y="310.3" width="104.1" height="22.3" fill="none" stroke="#2a2a2a" stroke-width="1.1"/>
<clipPath id="c491"><rect x="360.2" y="333.3" width="104.1" height="22.1"/></clipPath>
<g clip-path="url(#c491)">
<rect x="360.2" y="333.3" width="104.1" height="22.1" fill="#dcdcdc"/>
</g>
<rect x="360.2" y="333.3" width="104.1" height="22.1" fill="none" stroke="#2a2a2a" stroke-width="1.1"/>
<text x="411.5" y="366" font-size="11.8" text-anchor="middle">NUC</text>
<clipPath id="c497"><rect x="359.3" y="367.5" width="105" height="21"/></clipPath>
<g clip-path="url(#c497)">
<rect x="359.3" y="367.5" width="105" height="21" fill="#c4c4c4"/>
<rect x="362.25" y="375.64" width="22.5" height="3.51" rx="1.4" fill="#8e8e8e" filter="url(#b2)"/>
<rect x="388.75" y="375.64" width="22.5" height="3.51" rx="1.4" fill="#929292" filter="url(#b2)"/>
<rect x="415.25" y="375.18" width="22.5" height="4.05" rx="1.62" fill="#8a8a8a" filter="url(#b2)"/>
<rect x="441.25" y="375.38" width="20.5" height="3.24" rx="1.3" fill="#9e9e9e" filter="url(#b2)"/>
</g>
<rect x="359.3" y="367.5" width="105" height="21" fill="none" stroke="#2a2a2a" stroke-width="1.1"/>
<clipPath id="c506"><rect x="359.3" y="390" width="105" height="20.7"/></clipPath>
<g clip-path="url(#c506)">
<rect x="359.3" y="390" width="105" height="20.7" fill="#d9d9d9"/>
</g>
<rect x="359.3" y="390" width="105" height="20.7" fill="none" stroke="#2a2a2a" stroke-width="1.1"/>
<clipPath id="c511"><rect x="359.3" y="411.9" width="105" height="23.4"/></clipPath>
<g clip-path="url(#c511)">
<rect x="359.3" y="411.9" width="105" height="23.4" fill="#c6c6c6"/>
<rect x="360.75" y="423.56" width="23.5" height="6.48" rx="2.59" fill="#050505" filter="url(#b2)"/>
<rect x="387.05" y="423.26" width="23.5" height="6.48" rx="2.59" fill="#0a0a0a" filter="url(#b2)"/>
<rect x="411.25" y="421.95" width="24.5" height="8.51" rx="3.4" fill="#000" filter="url(#b2)"/>
<rect x="438.75" y="423.5" width="21.5" height="5.4" rx="2.16" fill="#111" filter="url(#b2)"/>
</g>
<rect x="359.3" y="411.9" width="105" height="23.4" fill="none" stroke="#2a2a2a" stroke-width="1.1"/>
<text x="354.4" y="223.3" font-size="7" text-anchor="end">100kD</text>
<line x1="354.8" y1="220.8" x2="360.2" y2="220.8" stroke="#000" stroke-width="1.3"/>
<text x="354.4" y="243.3" font-size="7" text-anchor="end">50kD</text>
<line x1="354.8" y1="240.8" x2="360.2" y2="240.8" stroke="#000" stroke-width="1.3"/>
<text x="354.4" y="260.3" font-size="7" text-anchor="end">75kD</text>
<line x1="354.8" y1="257.8" x2="360.2" y2="257.8" stroke="#000" stroke-width="1.3"/>
<text x="354.4" y="297.5" font-size="7" text-anchor="end">100kD</text>
<line x1="354.8" y1="295" x2="360.2" y2="295" stroke="#000" stroke-width="1.3"/>
<text x="354.4" y="319.1" font-size="7" text-anchor="end">50kD</text>
<line x1="354.8" y1="316.6" x2="360.2" y2="316.6" stroke="#000" stroke-width="1.3"/>
<text x="354.4" y="336.5" font-size="7" text-anchor="end">75kD</text>
<line x1="354.8" y1="334" x2="360.2" y2="334" stroke="#000" stroke-width="1.3"/>
<text x="353.8" y="380.8" font-size="7" text-anchor="end">100kD</text>
<line x1="354.2" y1="378.3" x2="359.3" y2="378.3" stroke="#000" stroke-width="1.3"/>
<text x="353.8" y="404.5" font-size="7" text-anchor="end">50kD</text>
<line x1="354.2" y1="402" x2="359.3" y2="402" stroke="#000" stroke-width="1.3"/>
<text x="353.8" y="429" font-size="7" text-anchor="end">75kD</text>
<line x1="354.2" y1="426.5" x2="359.3" y2="426.5" stroke="#000" stroke-width="1.3"/>
<text x="466.2" y="225.9" font-size="11.4">AHR</text>
<text x="466.2" y="247.5" font-size="11.4">α-Tubulin</text>
<text x="466.2" y="269.5" font-size="11.4">Lamin B1</text>
<text x="466.2" y="301.2" font-size="11.4">AHR</text>
<text x="466.2" y="324.8" font-size="11.4">α-Tubulin</text>
<text x="466.2" y="347.8" font-size="11.4">Lamin B1</text>
<text x="466.2" y="381.4" font-size="11.4">AHR</text>
<text x="466.2" y="403.6" font-size="11.4">α-Tubulin</text>
<text x="466.2" y="426.4" font-size="11.4">Lamin B1</text>
<text x="358.6" y="449.2" font-size="11.15" text-anchor="end">FICZ (400nM)</text>
<text x="357.3" y="462.6" font-size="11.6" text-anchor="end">NMII</text>
<text x="372.4" y="447.7" font-size="11.6" text-anchor="middle">-</text>
<text x="396.6" y="447.7" font-size="11.6" text-anchor="middle">+</text>
<text x="423.9" y="447.7" font-size="11.6" text-anchor="middle">-</text>
<text x="448.3" y="447.7" font-size="11.6" text-anchor="middle">+</text>
<text x="372.4" y="461.7" font-size="11.6" text-anchor="middle">-</text>
<text x="396.6" y="461.7" font-size="11.6" text-anchor="middle">-</text>
<text x="423.9" y="461.7" font-size="11.6" text-anchor="middle">+</text>
<text x="448.3" y="461.7" font-size="11.6" text-anchor="middle">+</text>
<text x="539.5" y="208.2" font-size="20">e</text>
<line x1="595.4" y1="231.91" x2="595.4" y2="289.1" stroke="#666" stroke-width="1"/>
<line x1="595.4" y1="289.1" x2="673.8" y2="289.1" stroke="#666" stroke-width="1"/>
<line x1="593" y1="231.91" x2="595.4" y2="231.91" stroke="#666" stroke-width="1"/>
<text transform="translate(591.8 235.61) scale(1.38 1)" font-size="10.4" text-anchor="end">1.5</text>
<line x1="593" y1="250.97" x2="595.4" y2="250.97" stroke="#666" stroke-width="1"/>
<text transform="translate(591.8 254.67) scale(1.38 1)" font-size="10.4" text-anchor="end">1.0</text>
<line x1="593" y1="270.04" x2="595.4" y2="270.04" stroke="#666" stroke-width="1"/>
<text transform="translate(591.8 273.74) scale(1.38 1)" font-size="10.4" text-anchor="end">0.5</text>
<line x1="593" y1="289.1" x2="595.4" y2="289.1" stroke="#666" stroke-width="1"/>
<text transform="translate(591.8 292.8) scale(1.38 1)" font-size="10.4" text-anchor="end">0.0</text>
<rect x="601.8" y="281.11" width="11.4" height="7.59" fill="#7b7cf6" stroke="#6062f0" stroke-width="0.8"/>
<line x1="607.5" y1="289.1" x2="607.5" y2="291.3" stroke="#666" stroke-width="1"/>
<rect x="620.2" y="267.77" width="11.4" height="20.93" fill="#f87a7a" stroke="#f25858" stroke-width="0.8"/>
<line x1="625.9" y1="289.1" x2="625.9" y2="291.3" stroke="#666" stroke-width="1"/>
<rect x="638.2" y="258.23" width="11.4" height="30.47" fill="#7ddc7d" stroke="#5ccc5c" stroke-width="0.8"/>
<line x1="643.9" y1="289.1" x2="643.9" y2="291.3" stroke="#666" stroke-width="1"/>
<rect x="656.4" y="247.56" width="11.4" height="41.14" fill="#cb7af0" stroke="#bb5ce8" stroke-width="0.8"/>
<line x1="662.1" y1="289.1" x2="662.1" y2="291.3" stroke="#666" stroke-width="1"/>
<line x1="607.5" y1="278.6" x2="607.5" y2="281.6" stroke="#4f52ee" stroke-width="0.9"/>
<line x1="605.2" y1="278.6" x2="609.8" y2="278.6" stroke="#4f52ee" stroke-width="0.9"/>
<line x1="605.2" y1="281.6" x2="609.8" y2="281.6" stroke="#4f52ee" stroke-width="0.9"/>
<circle cx="606" cy="280.4" r="1.5" fill="#4f52ee"/>
<circle cx="609" cy="279.7" r="1.5" fill="#4f52ee"/>
<line x1="625.9" y1="263.7" x2="625.9" y2="271.7" stroke="#ee3b3b" stroke-width="0.9"/>
<line x1="623.6" y1="263.7" x2="628.2" y2="263.7" stroke="#ee3b3b" stroke-width="0.9"/>
<line x1="623.6" y1="271.7" x2="628.2" y2="271.7" stroke="#ee3b3b" stroke-width="0.9"/>
<circle cx="624.9" cy="264.6" r="1.5" fill="none" stroke="#ee3b3b" stroke-width="1"/>
<circle cx="627.1" cy="265.6" r="1.5" fill="none" stroke="#ee3b3b" stroke-width="1"/>
<circle cx="625.9" cy="270.5" r="1.6" fill="#ee3b3b"/>
<line x1="643.9" y1="254.4" x2="643.9" y2="261.6" stroke="#2fbf2f" stroke-width="0.9"/>
<line x1="641.6" y1="254.4" x2="646.2" y2="254.4" stroke="#2fbf2f" stroke-width="0.9"/>
<line x1="641.6" y1="261.6" x2="646.2" y2="261.6" stroke="#2fbf2f" stroke-width="0.9"/>
<circle cx="643.9" cy="256.5" r="1.6" fill="#2fbf2f"/>
<circle cx="643.9" cy="260.5" r="1.6" fill="#2fbf2f"/>
<line x1="662.1" y1="243.6" x2="662.1" y2="251" stroke="#b040e0" stroke-width="0.9"/>
<line x1="659.8" y1="243.6" x2="664.4" y2="243.6" stroke="#b040e0" stroke-width="0.9"/>
<line x1="659.8" y1="251" x2="664.4" y2="251" stroke="#b040e0" stroke-width="0.9"/>
<circle cx="662.1" cy="245" r="1.6" fill="#b040e0"/>
<circle cx="662.1" cy="249.5" r="1.6" fill="#b040e0"/>
<path d="M607.3 237.2V234H661.7V236.2" stroke="#666" stroke-width="0.9" fill="none"/>
<path d="M607.3 250.4V247.4H643.7V250.4" stroke="#666" stroke-width="0.9" fill="none"/>
<path d="M607.3 278.5V259.5H625.7V261.6" stroke="#666" stroke-width="0.9" fill="none"/>
<path d="M620.65 224.4V230M617.65 225.69L623.65 228.71M617.65 228.71L623.65 225.69" stroke="#000" stroke-width="1.5" stroke-linecap="round" fill="none"/>
<path d="M630.02 224.4V230M627.02 225.69L633.02 228.71M627.02 228.71L633.02 225.69" stroke="#000" stroke-width="1.5" stroke-linecap="round" fill="none"/>
<path d="M639.39 224.4V230M636.39 225.69L642.39 228.71M636.39 228.71L642.39 225.69" stroke="#000" stroke-width="1.5" stroke-linecap="round" fill="none"/>
<path d="M648.76 224.4V230M645.76 225.69L651.76 228.71M645.76 228.71L651.76 225.69" stroke="#000" stroke-width="1.5" stroke-linecap="round" fill="none"/>
<path d="M611.75 238.2V243.8M608.75 239.49L614.75 242.51M608.75 242.51L614.75 239.49" stroke="#000" stroke-width="1.5" stroke-linecap="round" fill="none"/>
<path d="M621.12 238.2V243.8M618.12 239.49L624.12 242.51M618.12 242.51L624.12 239.49" stroke="#000" stroke-width="1.5" stroke-linecap="round" fill="none"/>
<path d="M630.49 238.2V243.8M627.49 239.49L633.49 242.51M627.49 242.51L633.49 239.49" stroke="#000" stroke-width="1.5" stroke-linecap="round" fill="none"/>
<path d="M639.86 238.2V243.8M636.86 239.49L642.86 242.51M636.86 242.51L642.86 239.49" stroke="#000" stroke-width="1.5" stroke-linecap="round" fill="none"/>
<path d="M611.82 250.8V256.4M608.82 252.09L614.82 255.11M608.82 255.11L614.82 252.09" stroke="#000" stroke-width="1.5" stroke-linecap="round" fill="none"/>
<path d="M621.19 250.8V256.4M618.19 252.09L624.19 255.11M618.19 255.11L624.19 252.09" stroke="#000" stroke-width="1.5" stroke-linecap="round" fill="none"/>
<text transform="translate(553.8 261.7) scale(1.18 1) rotate(-90)" font-size="9.7" text-anchor="middle">AHR expression</text>
<text transform="translate(567.2 261.8) scale(1.18 1) rotate(-90)" font-size="9.7" text-anchor="middle">(Nuc/WCL)</text>
<text transform="translate(612.3 299.1) scale(1.2 1) rotate(-40)" font-size="10" text-anchor="end">Mock</text>
<text transform="translate(630.7 299.1) scale(1.2 1) rotate(-40)" font-size="10" text-anchor="end">FICZ</text>
<text transform="translate(648.7 299.1) scale(1.2 1) rotate(-40)" font-size="10" text-anchor="end">NMII</text>
<text transform="translate(666.9 299.1) scale(1.2 1) rotate(-40)" font-size="10" text-anchor="end">NMII(FICZ)</text>
<text transform="translate(545.3 332) scale(1 1)" font-size="20">f</text>
<line x1="594.8" y1="352.4" x2="594.8" y2="409" stroke="#666" stroke-width="1"/>
<line x1="594.8" y1="409" x2="675.8" y2="409" stroke="#666" stroke-width="1"/>
<line x1="592.5" y1="352.4" x2="594.8" y2="352.4" stroke="#666" stroke-width="1"/>
<text transform="translate(591 356.1) scale(1.38 1)" font-size="10.3" text-anchor="end">10</text>
<line x1="592.5" y1="363.72" x2="594.8" y2="363.72" stroke="#666" stroke-width="1"/>
<text transform="translate(591 367.42) scale(1.38 1)" font-size="10.3" text-anchor="end">8</text>
<line x1="592.5" y1="375.04" x2="594.8" y2="375.04" stroke="#666" stroke-width="1"/>
<text transform="translate(591 378.74) scale(1.38 1)" font-size="10.3" text-anchor="end">6</text>
<line x1="592.5" y1="386.36" x2="594.8" y2="386.36" stroke="#666" stroke-width="1"/>
<text transform="translate(591 390.06) scale(1.38 1)" font-size="10.3" text-anchor="end">4</text>
<line x1="592.5" y1="397.68" x2="594.8" y2="397.68" stroke="#666" stroke-width="1"/>
<text transform="translate(591 401.38) scale(1.38 1)" font-size="10.3" text-anchor="end">2</text>
<line x1="592.5" y1="409" x2="594.8" y2="409" stroke="#666" stroke-width="1"/>
<text transform="translate(591 412.7) scale(1.38 1)" font-size="10.3" text-anchor="end">0</text>
<rect x="601.6" y="406.85" width="11.7" height="1.75" fill="#7b7cf6" stroke="#6062f0" stroke-width="0.8"/>
<line x1="607.45" y1="409" x2="607.45" y2="411.2" stroke="#666" stroke-width="1"/>
<rect x="620.4" y="381.95" width="11.7" height="26.65" fill="#f87a7a" stroke="#f25858" stroke-width="0.8"/>
<line x1="626.25" y1="409" x2="626.25" y2="411.2" stroke="#666" stroke-width="1"/>
<rect x="639" y="372.04" width="11.7" height="36.56" fill="#7ddc7d" stroke="#5ccc5c" stroke-width="0.8"/>
<line x1="644.85" y1="409" x2="644.85" y2="411.2" stroke="#666" stroke-width="1"/>
<rect x="657.4" y="373.74" width="11.7" height="34.86" fill="#cb7af0" stroke="#bb5ce8" stroke-width="0.8"/>
<line x1="663.25" y1="409" x2="663.25" y2="411.2" stroke="#666" stroke-width="1"/>
<line x1="607.45" y1="405.6" x2="607.45" y2="407.4" stroke="#4f52ee" stroke-width="0.9"/>
<line x1="604.45" y1="405.6" x2="610.45" y2="405.6" stroke="#4f52ee" stroke-width="0.9"/>
<line x1="604.45" y1="407.4" x2="610.45" y2="407.4" stroke="#4f52ee" stroke-width="0.9"/>
<circle cx="604.95" cy="406.3" r="1.4" fill="#4f52ee"/>
<circle cx="607.45" cy="406" r="1.4" fill="#4f52ee"/>
<circle cx="609.95" cy="406.5" r="1.4" fill="#4f52ee"/>
<line x1="626.25" y1="378.3" x2="626.25" y2="385" stroke="#ee3b3b" stroke-width="0.9"/>
<line x1="623.95" y1="378.3" x2="628.55" y2="378.3" stroke="#ee3b3b" stroke-width="0.9"/>
<line x1="623.95" y1="385" x2="628.55" y2="385" stroke="#ee3b3b" stroke-width="0.9"/>
<circle cx="625.25" cy="379.5" r="1.5" fill="none" stroke="#ee3b3b" stroke-width="1"/>
<circle cx="627.55" cy="380.5" r="1.5" fill="none" stroke="#ee3b3b" stroke-width="1"/>
<circle cx="626.25" cy="384" r="1.6" fill="#ee3b3b"/>
<line x1="644.85" y1="365.7" x2="644.85" y2="377.5" stroke="#2fbf2f" stroke-width="0.9"/>
<line x1="642.55" y1="365.7" x2="647.15" y2="365.7" stroke="#2fbf2f" stroke-width="0.9"/>
<line x1="642.55" y1="377.5" x2="647.15" y2="377.5" stroke="#2fbf2f" stroke-width="0.9"/>
<circle cx="644.85" cy="371.5" r="1.6" fill="#2fbf2f"/>
<circle cx="644.85" cy="377" r="1.6" fill="#2fbf2f"/>
<line x1="663.25" y1="367.1" x2="663.25" y2="378.9" stroke="#b040e0" stroke-width="0.9"/>
<line x1="660.95" y1="367.1" x2="665.55" y2="367.1" stroke="#b040e0" stroke-width="0.9"/>
<line x1="660.95" y1="378.9" x2="665.55" y2="378.9" stroke="#b040e0" stroke-width="0.9"/>
<circle cx="663.25" cy="372" r="1.6" fill="#b040e0"/>
<circle cx="663.25" cy="378" r="1.6" fill="#b040e0"/>
<path d="M607.3 351.4V348.9H663.5V358.5" stroke="#666" stroke-width="0.9" fill="none"/>
<path d="M607.3 364.6V362.2H644.7V364.6" stroke="#666" stroke-width="0.9" fill="none"/>
<path d="M607.3 405.5V375.3H626.3V377.3" stroke="#666" stroke-width="0.9" fill="none"/>
<path d="M621.25 340.3V345.9M618.25 341.59L624.25 344.61M618.25 344.61L624.25 341.59" stroke="#000" stroke-width="1.5" stroke-linecap="round" fill="none"/>
<path d="M630.62 340.3V345.9M627.62 341.59L633.62 344.61M627.62 344.61L633.62 341.59" stroke="#000" stroke-width="1.5" stroke-linecap="round" fill="none"/>
<path d="M639.99 340.3V345.9M636.99 341.59L642.99 344.61M636.99 344.61L642.99 341.59" stroke="#000" stroke-width="1.5" stroke-linecap="round" fill="none"/>
<path d="M649.36 340.3V345.9M646.36 341.59L652.36 344.61M646.36 344.61L652.36 341.59" stroke="#000" stroke-width="1.5" stroke-linecap="round" fill="none"/>
<path d="M611.65 353.7V359.3M608.65 354.99L614.65 358.01M608.65 358.01L614.65 354.99" stroke="#000" stroke-width="1.5" stroke-linecap="round" fill="none"/>
<path d="M621.02 353.7V359.3M618.02 354.99L624.02 358.01M618.02 358.01L624.02 354.99" stroke="#000" stroke-width="1.5" stroke-linecap="round" fill="none"/>
<path d="M630.39 353.7V359.3M627.39 354.99L633.39 358.01M627.39 358.01L633.39 354.99" stroke="#000" stroke-width="1.5" stroke-linecap="round" fill="none"/>
<path d="M639.76 353.7V359.3M636.76 354.99L642.76 358.01M636.76 358.01L642.76 354.99" stroke="#000" stroke-width="1.5" stroke-linecap="round" fill="none"/>
<path d="M607.43 367V372.6M604.43 368.29L610.43 371.31M604.43 371.31L610.43 368.29" stroke="#000" stroke-width="1.5" stroke-linecap="round" fill="none"/>
<path d="M616.8 367V372.6M613.8 368.29L619.8 371.31M613.8 371.31L619.8 368.29" stroke="#000" stroke-width="1.5" stroke-linecap="round" fill="none"/>
<path d="M626.17 367V372.6M623.17 368.29L629.17 371.31M623.17 371.31L629.17 368.29" stroke="#000" stroke-width="1.5" stroke-linecap="round" fill="none"/>
<text transform="translate(560.6 384.8) scale(1.18 1) rotate(-90)" font-size="9.7" text-anchor="middle">AHR expression</text>
<text transform="translate(574.3 384.2) scale(1.18 1) rotate(-90)" font-size="9.7" text-anchor="middle">(Nuc/Cyto)</text>
<text transform="translate(612.25 419) scale(1.2 1) rotate(-40)" font-size="10" text-anchor="end">Mock</text>
<text transform="translate(631.05 419) scale(1.2 1) rotate(-40)" font-size="10" text-anchor="end">FICZ</text>
<text transform="translate(649.65 419) scale(1.2 1) rotate(-40)" font-size="10" text-anchor="end">NMII</text>
<text transform="translate(668.05 419) scale(1.2 1) rotate(-40)" font-size="10" text-anchor="end">NMII(FICZ)</text>
<text x="11" y="493.8" font-size="20">g</text>
<text transform="translate(195 500.2) scale(0.99 1)" font-size="13.9">HepG2-AHR-Lucia cells</text>
<circle cx="73.9" cy="498.3" r="2.2" fill="none" stroke="#111" stroke-width="1.1"/>
<text transform="translate(92.5 502.7) scale(1.11 1)" font-size="12.4">Mock</text>
<circle cx="73.9" cy="516.35" r="2.2" fill="none" stroke="#f0186a" stroke-width="1.1"/>
<text transform="translate(92.5 520.75) scale(1.11 1)" font-size="12.4">NC</text>
<circle cx="73.9" cy="534.4" r="2.2" fill="none" stroke="#1f8a85" stroke-width="1.1"/>
<text transform="translate(92.5 538.8) scale(1.11 1)" font-size="12.4">FICZ</text>
<circle cx="73.9" cy="552.45" r="2.2" fill="none" stroke="#4a1486" stroke-width="1.1"/>
<text transform="translate(92.5 556.85) scale(1.11 1)" font-size="12.4">NMII</text>
<circle cx="73.9" cy="570.5" r="2.2" fill="none" stroke="#b57cf6" stroke-width="1.1"/>
<text transform="translate(92.5 574.9) scale(1.11 1)" font-size="12.4">NMII(FICZ)</text>
<circle cx="73.9" cy="588.55" r="2.2" fill="none" stroke="#5cc2f0" stroke-width="1.1"/>
<text transform="translate(92.5 592.95) scale(1.11 1)" font-size="12.4">CH223</text>
<circle cx="73.9" cy="606.6" r="2.2" fill="none" stroke="#141478" stroke-width="1.1"/>
<text transform="translate(92.5 611) scale(1.11 1)" font-size="12.4">NMII(CH223)</text>
<line x1="59.3" y1="564.5" x2="59.3" y2="631" stroke="#555" stroke-width="1.1"/>
<line x1="59.3" y1="642.3" x2="59.3" y2="694" stroke="#555" stroke-width="1.1"/>
<line x1="59.3" y1="705.2" x2="59.3" y2="799.2" stroke="#555" stroke-width="1.1"/>
<line x1="54.8" y1="631" x2="63.8" y2="631" stroke="#555" stroke-width="1.1"/>
<line x1="54.8" y1="642.3" x2="63.8" y2="642.3" stroke="#555" stroke-width="1.1"/>
<line x1="54.8" y1="694" x2="63.8" y2="694" stroke="#555" stroke-width="1.1"/>
<line x1="54.8" y1="705.2" x2="63.8" y2="705.2" stroke="#555" stroke-width="1.1"/>
<line x1="53.3" y1="564.5" x2="59.3" y2="564.5" stroke="#555" stroke-width="1.1"/>
<text transform="translate(51 570.2) scale(1.13 1)" font-size="13.3" text-anchor="end">150</text>
<line x1="53.3" y1="604.4" x2="59.3" y2="604.4" stroke="#555" stroke-width="1.1"/>
<text transform="translate(51 610.1) scale(1.13 1)" font-size="13.3" text-anchor="end">120</text>
<line x1="53.3" y1="653.5" x2="59.3" y2="653.5" stroke="#555" stroke-width="1.1"/>
<text transform="translate(51 659.2) scale(1.13 1)" font-size="13.3" text-anchor="end">80</text>
<line x1="53.3" y1="675.7" x2="59.3" y2="675.7" stroke="#555" stroke-width="1.1"/>
<text transform="translate(51 681.4) scale(1.13 1)" font-size="13.3" text-anchor="end">40</text>
<line x1="53.3" y1="713.79" x2="59.3" y2="713.79" stroke="#555" stroke-width="1.1"/>
<text transform="translate(51 719.49) scale(1.13 1)" font-size="13.3" text-anchor="end">9</text>
<line x1="53.3" y1="742.26" x2="59.3" y2="742.26" stroke="#555" stroke-width="1.1"/>
<text transform="translate(51 747.96) scale(1.13 1)" font-size="13.3" text-anchor="end">6</text>
<line x1="53.3" y1="770.73" x2="59.3" y2="770.73" stroke="#555" stroke-width="1.1"/>
<text transform="translate(51 776.43) scale(1.13 1)" font-size="13.3" text-anchor="end">3</text>
<line x1="53.3" y1="799.2" x2="59.3" y2="799.2" stroke="#555" stroke-width="1.1"/>
<text transform="translate(51 804.9) scale(1.13 1)" font-size="13.3" text-anchor="end">0</text>
<line x1="59.3" y1="799.2" x2="521" y2="799.2" stroke="#333" stroke-width="1.2"/>
<text x="21.3" y="688.6" font-size="13.9" text-anchor="middle" transform="rotate(-90 21.3 688.6)">Relative AHR-Luc Activation</text>
<rect x="64.35" y="789.79" width="7.3" height="8.86" fill="#7a7a7a" stroke="#262626" stroke-width="1.1"/>
<circle cx="66.5" cy="788.94" r="2.3" fill="none" stroke="#111" stroke-width="0.9"/>
<circle cx="69.6" cy="789.84" r="2.3" fill="none" stroke="#111" stroke-width="0.9"/>
<circle cx="68" cy="790.84" r="2.3" fill="none" stroke="#111" stroke-width="0.9"/>
<rect x="76.45" y="790.26" width="7.3" height="8.39" fill="#ff78ad" stroke="#ff2a7f" stroke-width="1.1"/>
<circle cx="78.6" cy="789.41" r="2.3" fill="none" stroke="#f0186a" stroke-width="0.9"/>
<circle cx="81.7" cy="790.31" r="2.3" fill="none" stroke="#f0186a" stroke-width="0.9"/>
<circle cx="80.1" cy="791.31" r="2.3" fill="none" stroke="#f0186a" stroke-width="0.9"/>
<rect x="88.55" y="777.92" width="7.3" height="20.73" fill="#82c1bc" stroke="#2a8c86" stroke-width="1.1"/>
<circle cx="90.7" cy="777.07" r="2.3" fill="none" stroke="#1f8a85" stroke-width="0.9"/>
<circle cx="93.8" cy="777.97" r="2.3" fill="none" stroke="#1f8a85" stroke-width="0.9"/>
<circle cx="92.2" cy="778.97" r="2.3" fill="none" stroke="#1f8a85" stroke-width="0.9"/>
<rect x="100.65" y="777.92" width="7.3" height="20.73" fill="#9b7ec6" stroke="#4f1f8f" stroke-width="1.1"/>
<circle cx="102.8" cy="777.07" r="2.3" fill="none" stroke="#4a1486" stroke-width="0.9"/>
<circle cx="105.9" cy="777.97" r="2.3" fill="none" stroke="#4a1486" stroke-width="0.9"/>
<circle cx="104.3" cy="778.97" r="2.3" fill="none" stroke="#4a1486" stroke-width="0.9"/>
<rect x="112.75" y="779.35" width="7.3" height="19.3" fill="#d2b3ff" stroke="#b67ef6" stroke-width="1.1"/>
<circle cx="114.9" cy="778.5" r="2.3" fill="none" stroke="#b57cf6" stroke-width="0.9"/>
<circle cx="118" cy="779.4" r="2.3" fill="none" stroke="#b57cf6" stroke-width="0.9"/>
<circle cx="116.4" cy="780.4" r="2.3" fill="none" stroke="#b57cf6" stroke-width="0.9"/>
<rect x="124.85" y="793.87" width="7.3" height="4.78" fill="#8fd5f6" stroke="#62c4f0" stroke-width="1.1"/>
<circle cx="127" cy="793.02" r="2.3" fill="none" stroke="#5cc2f0" stroke-width="0.9"/>
<circle cx="130.1" cy="793.92" r="2.3" fill="none" stroke="#5cc2f0" stroke-width="0.9"/>
<circle cx="128.5" cy="794.92" r="2.3" fill="none" stroke="#5cc2f0" stroke-width="0.9"/>
<rect x="136.95" y="790.26" width="7.3" height="8.39" fill="#6464b4" stroke="#1b1b78" stroke-width="1.1"/>
<circle cx="139.1" cy="789.41" r="2.3" fill="none" stroke="#141478" stroke-width="0.9"/>
<circle cx="142.2" cy="790.31" r="2.3" fill="none" stroke="#141478" stroke-width="0.9"/>
<circle cx="140.6" cy="791.31" r="2.3" fill="none" stroke="#141478" stroke-width="0.9"/>
<line x1="104.3" y1="799.2" x2="104.3" y2="803.7" stroke="#333" stroke-width="1.1"/>
<text transform="translate(105.3 819.2) scale(1.1 1)" font-size="13.4" text-anchor="middle">1h</text>
<rect x="157.35" y="789.79" width="7.3" height="8.86" fill="#7a7a7a" stroke="#262626" stroke-width="1.1"/>
<circle cx="159.5" cy="788.94" r="2.3" fill="none" stroke="#111" stroke-width="0.9"/>
<circle cx="162.6" cy="789.84" r="2.3" fill="none" stroke="#111" stroke-width="0.9"/>
<circle cx="161" cy="790.84" r="2.3" fill="none" stroke="#111" stroke-width="0.9"/>
<rect x="169.45" y="790.26" width="7.3" height="8.39" fill="#ff78ad" stroke="#ff2a7f" stroke-width="1.1"/>
<circle cx="171.6" cy="789.41" r="2.3" fill="none" stroke="#f0186a" stroke-width="0.9"/>
<circle cx="174.7" cy="790.31" r="2.3" fill="none" stroke="#f0186a" stroke-width="0.9"/>
<circle cx="173.1" cy="791.31" r="2.3" fill="none" stroke="#f0186a" stroke-width="0.9"/>
<rect x="181.55" y="686.57" width="7.3" height="6.88" fill="#82c1bc" stroke="#2a8c86" stroke-width="1.1"/>
<rect x="181.55" y="705.75" width="7.3" height="92.9" fill="#82c1bc" stroke="#2a8c86" stroke-width="1.1"/>
<circle cx="183.7" cy="685.72" r="2.3" fill="none" stroke="#1f8a85" stroke-width="0.9"/>
<circle cx="186.8" cy="686.62" r="2.3" fill="none" stroke="#1f8a85" stroke-width="0.9"/>
<circle cx="185.2" cy="687.62" r="2.3" fill="none" stroke="#1f8a85" stroke-width="0.9"/>
<rect x="193.65" y="690.96" width="7.3" height="2.49" fill="#9b7ec6" stroke="#4f1f8f" stroke-width="1.1"/>
<rect x="193.65" y="705.75" width="7.3" height="92.9" fill="#9b7ec6" stroke="#4f1f8f" stroke-width="1.1"/>
<circle cx="195.8" cy="690.11" r="2.3" fill="none" stroke="#4a1486" stroke-width="0.9"/>
<circle cx="198.9" cy="691.01" r="2.3" fill="none" stroke="#4a1486" stroke-width="0.9"/>
<circle cx="197.3" cy="692.01" r="2.3" fill="none" stroke="#4a1486" stroke-width="0.9"/>
<rect x="205.75" y="689.57" width="7.3" height="3.88" fill="#d2b3ff" stroke="#b67ef6" stroke-width="1.1"/>
<rect x="205.75" y="705.75" width="7.3" height="92.9" fill="#d2b3ff" stroke="#b67ef6" stroke-width="1.1"/>
<circle cx="207.9" cy="688.72" r="2.3" fill="none" stroke="#b57cf6" stroke-width="0.9"/>
<circle cx="211" cy="689.62" r="2.3" fill="none" stroke="#b57cf6" stroke-width="0.9"/>
<circle cx="209.4" cy="690.62" r="2.3" fill="none" stroke="#b57cf6" stroke-width="0.9"/>
<rect x="217.85" y="794.53" width="7.3" height="4.12" fill="#8fd5f6" stroke="#62c4f0" stroke-width="1.1"/>
<circle cx="220" cy="793.68" r="2.3" fill="none" stroke="#5cc2f0" stroke-width="0.9"/>
<circle cx="223.1" cy="794.58" r="2.3" fill="none" stroke="#5cc2f0" stroke-width="0.9"/>
<circle cx="221.5" cy="795.58" r="2.3" fill="none" stroke="#5cc2f0" stroke-width="0.9"/>
<rect x="229.95" y="733.32" width="7.3" height="65.33" fill="#6464b4" stroke="#1b1b78" stroke-width="1.1"/>
<line x1="197.3" y1="799.2" x2="197.3" y2="803.7" stroke="#333" stroke-width="1.1"/>
<text transform="translate(197.3 819.2) scale(1.1 1)" font-size="13.4" text-anchor="middle">24h</text>
<rect x="250.35" y="789.79" width="7.3" height="8.86" fill="#7a7a7a" stroke="#262626" stroke-width="1.1"/>
<circle cx="252.5" cy="788.94" r="2.3" fill="none" stroke="#111" stroke-width="0.9"/>
<circle cx="255.6" cy="789.84" r="2.3" fill="none" stroke="#111" stroke-width="0.9"/>
<circle cx="254" cy="790.84" r="2.3" fill="none" stroke="#111" stroke-width="0.9"/>
<rect x="262.45" y="789.79" width="7.3" height="8.86" fill="#ff78ad" stroke="#ff2a7f" stroke-width="1.1"/>
<circle cx="264.6" cy="788.94" r="2.3" fill="none" stroke="#f0186a" stroke-width="0.9"/>
<circle cx="267.7" cy="789.84" r="2.3" fill="none" stroke="#f0186a" stroke-width="0.9"/>
<circle cx="266.1" cy="790.84" r="2.3" fill="none" stroke="#f0186a" stroke-width="0.9"/>
<rect x="274.55" y="669.15" width="7.3" height="24.3" fill="#82c1bc" stroke="#2a8c86" stroke-width="1.1"/>
<rect x="274.55" y="705.75" width="7.3" height="92.9" fill="#82c1bc" stroke="#2a8c86" stroke-width="1.1"/>
<circle cx="276.7" cy="668.3" r="2.3" fill="none" stroke="#1f8a85" stroke-width="0.9"/>
<circle cx="279.8" cy="669.2" r="2.3" fill="none" stroke="#1f8a85" stroke-width="0.9"/>
<circle cx="278.2" cy="670.2" r="2.3" fill="none" stroke="#1f8a85" stroke-width="0.9"/>
<rect x="286.65" y="681.8" width="7.3" height="11.65" fill="#9b7ec6" stroke="#4f1f8f" stroke-width="1.1"/>
<rect x="286.65" y="705.75" width="7.3" height="92.9" fill="#9b7ec6" stroke="#4f1f8f" stroke-width="1.1"/>
<circle cx="288.8" cy="680.95" r="2.3" fill="none" stroke="#4a1486" stroke-width="0.9"/>
<circle cx="291.9" cy="681.85" r="2.3" fill="none" stroke="#4a1486" stroke-width="0.9"/>
<circle cx="290.3" cy="682.85" r="2.3" fill="none" stroke="#4a1486" stroke-width="0.9"/>
<rect x="298.75" y="670.7" width="7.3" height="22.75" fill="#d2b3ff" stroke="#b67ef6" stroke-width="1.1"/>
<rect x="298.75" y="705.75" width="7.3" height="92.9" fill="#d2b3ff" stroke="#b67ef6" stroke-width="1.1"/>
<circle cx="300.9" cy="669.85" r="2.3" fill="none" stroke="#b57cf6" stroke-width="0.9"/>
<circle cx="304" cy="670.75" r="2.3" fill="none" stroke="#b57cf6" stroke-width="0.9"/>
<circle cx="302.4" cy="671.75" r="2.3" fill="none" stroke="#b57cf6" stroke-width="0.9"/>
<rect x="310.85" y="794.53" width="7.3" height="4.12" fill="#8fd5f6" stroke="#62c4f0" stroke-width="1.1"/>
<circle cx="313" cy="793.68" r="2.3" fill="none" stroke="#5cc2f0" stroke-width="0.9"/>
<circle cx="316.1" cy="794.58" r="2.3" fill="none" stroke="#5cc2f0" stroke-width="0.9"/>
<circle cx="314.5" cy="795.58" r="2.3" fill="none" stroke="#5cc2f0" stroke-width="0.9"/>
<rect x="322.95" y="707.7" width="7.3" height="90.95" fill="#6464b4" stroke="#1b1b78" stroke-width="1.1"/>
<line x1="290.3" y1="799.2" x2="290.3" y2="803.7" stroke="#333" stroke-width="1.1"/>
<text transform="translate(290.3 819.2) scale(1.1 1)" font-size="13.4" text-anchor="middle">48h</text>
<rect x="343.35" y="789.79" width="7.3" height="8.86" fill="#7a7a7a" stroke="#262626" stroke-width="1.1"/>
<circle cx="345.5" cy="788.94" r="2.3" fill="none" stroke="#111" stroke-width="0.9"/>
<circle cx="348.6" cy="789.84" r="2.3" fill="none" stroke="#111" stroke-width="0.9"/>
<circle cx="347" cy="790.84" r="2.3" fill="none" stroke="#111" stroke-width="0.9"/>
<rect x="355.45" y="790.26" width="7.3" height="8.39" fill="#ff78ad" stroke="#ff2a7f" stroke-width="1.1"/>
<circle cx="357.6" cy="789.41" r="2.3" fill="none" stroke="#f0186a" stroke-width="0.9"/>
<circle cx="360.7" cy="790.31" r="2.3" fill="none" stroke="#f0186a" stroke-width="0.9"/>
<circle cx="359.1" cy="791.31" r="2.3" fill="none" stroke="#f0186a" stroke-width="0.9"/>
<rect x="367.55" y="654.61" width="7.3" height="38.84" fill="#82c1bc" stroke="#2a8c86" stroke-width="1.1"/>
<rect x="367.55" y="705.75" width="7.3" height="92.9" fill="#82c1bc" stroke="#2a8c86" stroke-width="1.1"/>
<circle cx="369.7" cy="653.76" r="2.3" fill="none" stroke="#1f8a85" stroke-width="0.9"/>
<circle cx="372.8" cy="654.66" r="2.3" fill="none" stroke="#1f8a85" stroke-width="0.9"/>
<circle cx="371.2" cy="655.66" r="2.3" fill="none" stroke="#1f8a85" stroke-width="0.9"/>
<rect x="379.65" y="680.69" width="7.3" height="12.76" fill="#9b7ec6" stroke="#4f1f8f" stroke-width="1.1"/>
<rect x="379.65" y="705.75" width="7.3" height="92.9" fill="#9b7ec6" stroke="#4f1f8f" stroke-width="1.1"/>
<circle cx="381.8" cy="679.84" r="2.3" fill="none" stroke="#4a1486" stroke-width="0.9"/>
<circle cx="384.9" cy="680.74" r="2.3" fill="none" stroke="#4a1486" stroke-width="0.9"/>
<circle cx="383.3" cy="681.74" r="2.3" fill="none" stroke="#4a1486" stroke-width="0.9"/>
<rect x="391.75" y="662.38" width="7.3" height="31.07" fill="#d2b3ff" stroke="#b67ef6" stroke-width="1.1"/>
<rect x="391.75" y="705.75" width="7.3" height="92.9" fill="#d2b3ff" stroke="#b67ef6" stroke-width="1.1"/>
<circle cx="393.9" cy="661.53" r="2.3" fill="none" stroke="#b57cf6" stroke-width="0.9"/>
<circle cx="397" cy="662.43" r="2.3" fill="none" stroke="#b57cf6" stroke-width="0.9"/>
<circle cx="395.4" cy="663.43" r="2.3" fill="none" stroke="#b57cf6" stroke-width="0.9"/>
<rect x="403.85" y="794.53" width="7.3" height="4.12" fill="#8fd5f6" stroke="#62c4f0" stroke-width="1.1"/>
<circle cx="406" cy="793.68" r="2.3" fill="none" stroke="#5cc2f0" stroke-width="0.9"/>
<circle cx="409.1" cy="794.58" r="2.3" fill="none" stroke="#5cc2f0" stroke-width="0.9"/>
<circle cx="407.5" cy="795.58" r="2.3" fill="none" stroke="#5cc2f0" stroke-width="0.9"/>
<rect x="415.95" y="709.12" width="7.3" height="89.53" fill="#6464b4" stroke="#1b1b78" stroke-width="1.1"/>
<line x1="383.3" y1="799.2" x2="383.3" y2="803.7" stroke="#333" stroke-width="1.1"/>
<text transform="translate(383.3 819.2) scale(1.1 1)" font-size="13.4" text-anchor="middle">72h</text>
<rect x="436.35" y="789.79" width="7.3" height="8.86" fill="#7a7a7a" stroke="#262626" stroke-width="1.1"/>
<circle cx="438.5" cy="788.94" r="2.3" fill="none" stroke="#111" stroke-width="0.9"/>
<circle cx="441.6" cy="789.84" r="2.3" fill="none" stroke="#111" stroke-width="0.9"/>
<circle cx="440" cy="790.84" r="2.3" fill="none" stroke="#111" stroke-width="0.9"/>
<rect x="448.45" y="789.79" width="7.3" height="8.86" fill="#ff78ad" stroke="#ff2a7f" stroke-width="1.1"/>
<circle cx="450.6" cy="788.94" r="2.3" fill="none" stroke="#f0186a" stroke-width="0.9"/>
<circle cx="453.7" cy="789.84" r="2.3" fill="none" stroke="#f0186a" stroke-width="0.9"/>
<circle cx="452.1" cy="790.84" r="2.3" fill="none" stroke="#f0186a" stroke-width="0.9"/>
<rect x="460.55" y="591.65" width="7.3" height="38.8" fill="#82c1bc" stroke="#2a8c86" stroke-width="1.1"/>
<rect x="460.55" y="642.85" width="7.3" height="50.6" fill="#82c1bc" stroke="#2a8c86" stroke-width="1.1"/>
<rect x="460.55" y="705.75" width="7.3" height="92.9" fill="#82c1bc" stroke="#2a8c86" stroke-width="1.1"/>
<rect x="472.65" y="681.25" width="7.3" height="12.2" fill="#9b7ec6" stroke="#4f1f8f" stroke-width="1.1"/>
<rect x="472.65" y="705.75" width="7.3" height="92.9" fill="#9b7ec6" stroke="#4f1f8f" stroke-width="1.1"/>
<circle cx="474.8" cy="680.4" r="2.3" fill="none" stroke="#4a1486" stroke-width="0.9"/>
<circle cx="477.9" cy="681.3" r="2.3" fill="none" stroke="#4a1486" stroke-width="0.9"/>
<circle cx="476.3" cy="682.3" r="2.3" fill="none" stroke="#4a1486" stroke-width="0.9"/>
<rect x="484.75" y="611.2" width="7.3" height="19.25" fill="#d2b3ff" stroke="#b67ef6" stroke-width="1.1"/>
<rect x="484.75" y="642.85" width="7.3" height="50.6" fill="#d2b3ff" stroke="#b67ef6" stroke-width="1.1"/>
<rect x="484.75" y="705.75" width="7.3" height="92.9" fill="#d2b3ff" stroke="#b67ef6" stroke-width="1.1"/>
<rect x="496.85" y="794.53" width="7.3" height="4.12" fill="#8fd5f6" stroke="#62c4f0" stroke-width="1.1"/>
<circle cx="499" cy="793.68" r="2.3" fill="none" stroke="#5cc2f0" stroke-width="0.9"/>
<circle cx="502.1" cy="794.58" r="2.3" fill="none" stroke="#5cc2f0" stroke-width="0.9"/>
<circle cx="500.5" cy="795.58" r="2.3" fill="none" stroke="#5cc2f0" stroke-width="0.9"/>
<rect x="508.95" y="738.07" width="7.3" height="60.58" fill="#6464b4" stroke="#1b1b78" stroke-width="1.1"/>
<circle cx="511.1" cy="737.22" r="2.3" fill="none" stroke="#141478" stroke-width="0.9"/>
<circle cx="514.2" cy="738.12" r="2.3" fill="none" stroke="#141478" stroke-width="0.9"/>
<circle cx="512.6" cy="739.12" r="2.3" fill="none" stroke="#141478" stroke-width="0.9"/>
<line x1="476.3" y1="799.2" x2="476.3" y2="803.7" stroke="#333" stroke-width="1.1"/>
<text transform="translate(476.3 819.2) scale(1.1 1)" font-size="13.4" text-anchor="middle">150h</text>
<line x1="233.6" y1="720.3" x2="233.6" y2="748.9" stroke="#141478" stroke-width="1"/>
<line x1="231" y1="720.3" x2="236.2" y2="720.3" stroke="#141478" stroke-width="1"/>
<line x1="231" y1="748.9" x2="236.2" y2="748.9" stroke="#141478" stroke-width="1"/>
<circle cx="233.6" cy="725.5" r="2.4" fill="none" stroke="#141478" stroke-width="1"/>
<circle cx="233.6" cy="728.5" r="2.4" fill="none" stroke="#141478" stroke-width="1"/>
<circle cx="233.6" cy="746" r="2.4" fill="none" stroke="#141478" stroke-width="1"/>
<line x1="326.6" y1="705.7" x2="326.6" y2="716" stroke="#141478" stroke-width="1"/>
<line x1="324" y1="705.7" x2="329.2" y2="705.7" stroke="#141478" stroke-width="1"/>
<line x1="324" y1="716" x2="329.2" y2="716" stroke="#141478" stroke-width="1"/>
<circle cx="326.6" cy="692.8" r="2.4" fill="none" stroke="#141478" stroke-width="1"/>
<circle cx="326.6" cy="721.2" r="2.4" fill="none" stroke="#141478" stroke-width="1"/>
<line x1="419.6" y1="706.4" x2="419.6" y2="716" stroke="#141478" stroke-width="1"/>
<line x1="417" y1="706.4" x2="422.2" y2="706.4" stroke="#141478" stroke-width="1"/>
<line x1="417" y1="716" x2="422.2" y2="716" stroke="#141478" stroke-width="1"/>
<circle cx="419.6" cy="692.6" r="2.4" fill="none" stroke="#141478" stroke-width="1"/>
<circle cx="419.6" cy="722" r="2.4" fill="none" stroke="#141478" stroke-width="1"/>
<line x1="464.2" y1="584" x2="464.2" y2="600" stroke="#1a3a38" stroke-width="1"/>
<line x1="461.6" y1="584" x2="466.8" y2="584" stroke="#1a3a38" stroke-width="1"/>
<line x1="461.6" y1="600" x2="466.8" y2="600" stroke="#1a3a38" stroke-width="1"/>
<circle cx="464.2" cy="582.7" r="2.4" fill="none" stroke="#1f8a85" stroke-width="1"/>
<circle cx="463.2" cy="595.5" r="2.4" fill="none" stroke="#1f8a85" stroke-width="1"/>
<circle cx="464.7" cy="598.5" r="2.4" fill="none" stroke="#1f8a85" stroke-width="1"/>
<line x1="488.4" y1="601" x2="488.4" y2="622" stroke="#333" stroke-width="1"/>
<line x1="485.8" y1="601" x2="491" y2="601" stroke="#333" stroke-width="1"/>
<line x1="485.8" y1="622" x2="491" y2="622" stroke="#333" stroke-width="1"/>
<circle cx="487.2" cy="603.5" r="2.4" fill="none" stroke="#b57cf6" stroke-width="1"/>
<circle cx="489.8" cy="608.5" r="2.4" fill="none" stroke="#b57cf6" stroke-width="1"/>
<circle cx="488.4" cy="621" r="2.4" fill="none" stroke="#b57cf6" stroke-width="1"/>
<line x1="371.2" y1="647.5" x2="371.2" y2="663" stroke="#1a3a38" stroke-width="1"/>
<line x1="368.6" y1="647.5" x2="373.8" y2="647.5" stroke="#1a3a38" stroke-width="1"/>
<line x1="368.6" y1="663" x2="373.8" y2="663" stroke="#1a3a38" stroke-width="1"/>
<circle cx="370.2" cy="648.5" r="2.4" fill="none" stroke="#1f8a85" stroke-width="1"/>
<circle cx="372.7" cy="651.5" r="2.4" fill="none" stroke="#1f8a85" stroke-width="1"/>
<circle cx="371.2" cy="661.5" r="2.4" fill="none" stroke="#1f8a85" stroke-width="1"/>
<circle cx="395.4" cy="657.8" r="2.4" fill="none" stroke="#b57cf6" stroke-width="1"/>
<circle cx="396.6" cy="660.5" r="2.4" fill="none" stroke="#b57cf6" stroke-width="1"/>
<circle cx="394.9" cy="663.5" r="2.4" fill="none" stroke="#b57cf6" stroke-width="1"/>
<line x1="185.2" y1="682.5" x2="185.2" y2="692" stroke="#1f8a85" stroke-width="1"/>
<line x1="182.6" y1="682.5" x2="187.8" y2="682.5" stroke="#1f8a85" stroke-width="1"/>
<line x1="182.6" y1="692" x2="187.8" y2="692" stroke="#1f8a85" stroke-width="1"/>
<circle cx="185.2" cy="683.5" r="2.4" fill="none" stroke="#1f8a85" stroke-width="1"/>
<circle cx="183.7" cy="688" r="2.4" fill="none" stroke="#1f8a85" stroke-width="1"/>
<path d="M64.2 774.5V764.8H89.9V767.2" stroke="#333" stroke-width="1" fill="none"/>
<path d="M64.8 755.5V748.2H105.7V754" stroke="#333" stroke-width="1" fill="none"/>
<path d="M67.7 738V733H117.4V748.2" stroke="#333" stroke-width="1" fill="none"/>
<path d="M124.1 783.2V776.5H141.6V783.2" stroke="#333" stroke-width="1" fill="none"/>
<text transform="translate(134.1 772.2) scale(1.17 1)" font-size="15.5" text-anchor="middle">ns</text>
<text transform="translate(69.28 771.67) scale(1.08 1)" font-size="20.5" stroke="#000" stroke-width="0.45" stroke-linejoin="round">*</text>
<text transform="translate(78.88 771.67) scale(1.08 1)" font-size="20.5" stroke="#000" stroke-width="0.45" stroke-linejoin="round">*</text>
<text transform="translate(88.48 771.67) scale(1.08 1)" font-size="20.5" stroke="#000" stroke-width="0.45" stroke-linejoin="round">*</text>
<text transform="translate(75.68 755.57) scale(1.08 1)" font-size="20.5" stroke="#000" stroke-width="0.45" stroke-linejoin="round">*</text>
<text transform="translate(85.28 755.57) scale(1.08 1)" font-size="20.5" stroke="#000" stroke-width="0.45" stroke-linejoin="round">*</text>
<text transform="translate(94.88 755.57) scale(1.08 1)" font-size="20.5" stroke="#000" stroke-width="0.45" stroke-linejoin="round">*</text>
<text transform="translate(82.88 739.47) scale(1.08 1)" font-size="20.5" stroke="#000" stroke-width="0.45" stroke-linejoin="round">*</text>
<text transform="translate(92.48 739.47) scale(1.08 1)" font-size="20.5" stroke="#000" stroke-width="0.45" stroke-linejoin="round">*</text>
<text transform="translate(170.98 649.87) scale(1.08 1)" font-size="20.5" stroke="#000" stroke-width="0.45" stroke-linejoin="round">*</text>
<text transform="translate(180.58 649.87) scale(1.08 1)" font-size="20.5" stroke="#000" stroke-width="0.45" stroke-linejoin="round">*</text>
<text transform="translate(190.18 649.87) scale(1.08 1)" font-size="20.5" stroke="#000" stroke-width="0.45" stroke-linejoin="round">*</text>
<text transform="translate(199.78 649.87) scale(1.08 1)" font-size="20.5" stroke="#000" stroke-width="0.45" stroke-linejoin="round">*</text>
<text transform="translate(165.48 665.77) scale(1.08 1)" font-size="20.5" stroke="#000" stroke-width="0.45" stroke-linejoin="round">*</text>
<text transform="translate(175.08 665.77) scale(1.08 1)" font-size="20.5" stroke="#000" stroke-width="0.45" stroke-linejoin="round">*</text>
<text transform="translate(184.68 665.77) scale(1.08 1)" font-size="20.5" stroke="#000" stroke-width="0.45" stroke-linejoin="round">*</text>
<text transform="translate(156.28 683.27) scale(1.08 1)" font-size="20.5" stroke="#000" stroke-width="0.45" stroke-linejoin="round">*</text>
<text transform="translate(165.88 683.27) scale(1.08 1)" font-size="20.5" stroke="#000" stroke-width="0.45" stroke-linejoin="round">*</text>
<text transform="translate(175.48 683.27) scale(1.08 1)" font-size="20.5" stroke="#000" stroke-width="0.45" stroke-linejoin="round">*</text>
<text transform="translate(185.08 683.27) scale(1.08 1)" font-size="20.5" stroke="#000" stroke-width="0.45" stroke-linejoin="round">*</text>
<text transform="translate(216.48 716.87) scale(1.08 1)" font-size="20.5" stroke="#000" stroke-width="0.45" stroke-linejoin="round">*</text>
<text transform="translate(226.08 716.87) scale(1.08 1)" font-size="20.5" stroke="#000" stroke-width="0.45" stroke-linejoin="round">*</text>
<text transform="translate(235.68 716.87) scale(1.08 1)" font-size="20.5" stroke="#000" stroke-width="0.45" stroke-linejoin="round">*</text>
<text transform="translate(245.28 716.87) scale(1.08 1)" font-size="20.5" stroke="#000" stroke-width="0.45" stroke-linejoin="round">*</text>
<text transform="translate(261.78 632.17) scale(1.08 1)" font-size="20.5" stroke="#000" stroke-width="0.45" stroke-linejoin="round">*</text>
<text transform="translate(271.38 632.17) scale(1.08 1)" font-size="20.5" stroke="#000" stroke-width="0.45" stroke-linejoin="round">*</text>
<text transform="translate(280.98 632.17) scale(1.08 1)" font-size="20.5" stroke="#000" stroke-width="0.45" stroke-linejoin="round">*</text>
<text transform="translate(290.58 632.17) scale(1.08 1)" font-size="20.5" stroke="#000" stroke-width="0.45" stroke-linejoin="round">*</text>
<text transform="translate(255.18 648.27) scale(1.08 1)" font-size="20.5" stroke="#000" stroke-width="0.45" stroke-linejoin="round">*</text>
<text transform="translate(264.78 648.27) scale(1.08 1)" font-size="20.5" stroke="#000" stroke-width="0.45" stroke-linejoin="round">*</text>
<text transform="translate(274.38 648.27) scale(1.08 1)" font-size="20.5" stroke="#000" stroke-width="0.45" stroke-linejoin="round">*</text>
<text transform="translate(283.98 648.27) scale(1.08 1)" font-size="20.5" stroke="#000" stroke-width="0.45" stroke-linejoin="round">*</text>
<text transform="translate(251.58 664.87) scale(1.08 1)" font-size="20.5" stroke="#000" stroke-width="0.45" stroke-linejoin="round">*</text>
<text transform="translate(261.18 664.87) scale(1.08 1)" font-size="20.5" stroke="#000" stroke-width="0.45" stroke-linejoin="round">*</text>
<text transform="translate(270.78 664.87) scale(1.08 1)" font-size="20.5" stroke="#000" stroke-width="0.45" stroke-linejoin="round">*</text>
<text transform="translate(280.38 664.87) scale(1.08 1)" font-size="20.5" stroke="#000" stroke-width="0.45" stroke-linejoin="round">*</text>
<text transform="translate(312.78 687.07) scale(1.08 1)" font-size="20.5" stroke="#000" stroke-width="0.45" stroke-linejoin="round">*</text>
<text transform="translate(322.38 687.07) scale(1.08 1)" font-size="20.5" stroke="#000" stroke-width="0.45" stroke-linejoin="round">*</text>
<text transform="translate(331.98 687.07) scale(1.08 1)" font-size="20.5" stroke="#000" stroke-width="0.45" stroke-linejoin="round">*</text>
<text transform="translate(341.58 687.07) scale(1.08 1)" font-size="20.5" stroke="#000" stroke-width="0.45" stroke-linejoin="round">*</text>
<text transform="translate(354.38 607.87) scale(1.08 1)" font-size="20.5" stroke="#000" stroke-width="0.45" stroke-linejoin="round">*</text>
<text transform="translate(363.98 607.87) scale(1.08 1)" font-size="20.5" stroke="#000" stroke-width="0.45" stroke-linejoin="round">*</text>
<text transform="translate(373.58 607.87) scale(1.08 1)" font-size="20.5" stroke="#000" stroke-width="0.45" stroke-linejoin="round">*</text>
<text transform="translate(383.18 607.87) scale(1.08 1)" font-size="20.5" stroke="#000" stroke-width="0.45" stroke-linejoin="round">*</text>
<text transform="translate(347.48 625.57) scale(1.08 1)" font-size="20.5" stroke="#000" stroke-width="0.45" stroke-linejoin="round">*</text>
<text transform="translate(357.08 625.57) scale(1.08 1)" font-size="20.5" stroke="#000" stroke-width="0.45" stroke-linejoin="round">*</text>
<text transform="translate(366.68 625.57) scale(1.08 1)" font-size="20.5" stroke="#000" stroke-width="0.45" stroke-linejoin="round">*</text>
<text transform="translate(376.28 625.57) scale(1.08 1)" font-size="20.5" stroke="#000" stroke-width="0.45" stroke-linejoin="round">*</text>
<text transform="translate(341.88 643.77) scale(1.08 1)" font-size="20.5" stroke="#000" stroke-width="0.45" stroke-linejoin="round">*</text>
<text transform="translate(351.48 643.77) scale(1.08 1)" font-size="20.5" stroke="#000" stroke-width="0.45" stroke-linejoin="round">*</text>
<text transform="translate(361.08 643.77) scale(1.08 1)" font-size="20.5" stroke="#000" stroke-width="0.45" stroke-linejoin="round">*</text>
<text transform="translate(370.68 643.77) scale(1.08 1)" font-size="20.5" stroke="#000" stroke-width="0.45" stroke-linejoin="round">*</text>
<text transform="translate(404.78 688.67) scale(1.08 1)" font-size="20.5" stroke="#000" stroke-width="0.45" stroke-linejoin="round">*</text>
<text transform="translate(414.38 688.67) scale(1.08 1)" font-size="20.5" stroke="#000" stroke-width="0.45" stroke-linejoin="round">*</text>
<text transform="translate(423.98 688.67) scale(1.08 1)" font-size="20.5" stroke="#000" stroke-width="0.45" stroke-linejoin="round">*</text>
<text transform="translate(433.58 688.67) scale(1.08 1)" font-size="20.5" stroke="#000" stroke-width="0.45" stroke-linejoin="round">*</text>
<text transform="translate(441.68 549.37) scale(1.08 1)" font-size="20.5" stroke="#000" stroke-width="0.45" stroke-linejoin="round">*</text>
<text transform="translate(451.28 549.37) scale(1.08 1)" font-size="20.5" stroke="#000" stroke-width="0.45" stroke-linejoin="round">*</text>
<text transform="translate(460.88 549.37) scale(1.08 1)" font-size="20.5" stroke="#000" stroke-width="0.45" stroke-linejoin="round">*</text>
<text transform="translate(470.48 549.37) scale(1.08 1)" font-size="20.5" stroke="#000" stroke-width="0.45" stroke-linejoin="round">*</text>
<text transform="translate(441.68 564.17) scale(1.08 1)" font-size="20.5" stroke="#000" stroke-width="0.45" stroke-linejoin="round">*</text>
<text transform="translate(451.28 564.17) scale(1.08 1)" font-size="20.5" stroke="#000" stroke-width="0.45" stroke-linejoin="round">*</text>
<text transform="translate(460.88 564.17) scale(1.08 1)" font-size="20.5" stroke="#000" stroke-width="0.45" stroke-linejoin="round">*</text>
<text transform="translate(470.48 564.17) scale(1.08 1)" font-size="20.5" stroke="#000" stroke-width="0.45" stroke-linejoin="round">*</text>
<text transform="translate(434.68 579.47) scale(1.08 1)" font-size="20.5" stroke="#000" stroke-width="0.45" stroke-linejoin="round">*</text>
<text transform="translate(444.28 579.47) scale(1.08 1)" font-size="20.5" stroke="#000" stroke-width="0.45" stroke-linejoin="round">*</text>
<text transform="translate(453.88 579.47) scale(1.08 1)" font-size="20.5" stroke="#000" stroke-width="0.45" stroke-linejoin="round">*</text>
<text transform="translate(463.48 579.47) scale(1.08 1)" font-size="20.5" stroke="#000" stroke-width="0.45" stroke-linejoin="round">*</text>
<text transform="translate(492.08 722.57) scale(1.08 1)" font-size="20.5" stroke="#000" stroke-width="0.45" stroke-linejoin="round">*</text>
<text transform="translate(501.68 722.57) scale(1.08 1)" font-size="20.5" stroke="#000" stroke-width="0.45" stroke-linejoin="round">*</text>
<text transform="translate(511.28 722.57) scale(1.08 1)" font-size="20.5" stroke="#000" stroke-width="0.45" stroke-linejoin="round">*</text>
<text transform="translate(520.88 722.57) scale(1.08 1)" font-size="20.5" stroke="#000" stroke-width="0.45" stroke-linejoin="round">*</text>
<path d="M158.4 648V645.3H212.1V652" stroke="#333" stroke-width="1" fill="none"/>
<path d="M158.4 662.4V659.9H193.4V667.2" stroke="#333" stroke-width="1" fill="none"/>
<path d="M158.4 691.1V677.4H185.3V681.8" stroke="#333" stroke-width="1" fill="none"/>
<path d="M222.3 781V711.8H233.4V715.3" stroke="#333" stroke-width="1" fill="none"/>
<path d="M252.4 629.7V627.2H301.5V640.9" stroke="#333" stroke-width="1" fill="none"/>
<path d="M251 645.4V642.9H291.2V650.2" stroke="#333" stroke-width="1" fill="none"/>
<path d="M254.5 676.5V658.4H277.2V666.6" stroke="#333" stroke-width="1" fill="none"/>
<path d="M313.7 780.4V681.8H325.7V686.7" stroke="#333" stroke-width="1" fill="none"/>
<path d="M342.1 610V603.2H394.3V610" stroke="#333" stroke-width="1" fill="none"/>
<path d="M343.6 624.7V619.7H382V624.7" stroke="#333" stroke-width="1" fill="none"/>
<path d="M345.7 656.3V638.9H370.1V645.4" stroke="#333" stroke-width="1" fill="none"/>
<path d="M405 761.9V684.6H418.8V691" stroke="#333" stroke-width="1" fill="none"/>
<path d="M432.1 549.5V543H487.6V561.3" stroke="#333" stroke-width="1" fill="none"/>
<path d="M435.9 562.8V558.9H475.5V574.6" stroke="#333" stroke-width="1" fill="none"/>
<path d="M440 599V574H463V577.5" stroke="#333" stroke-width="1" fill="none"/>
<path d="M497.5 783.6V718.9H511.7V727.9" stroke="#333" stroke-width="1" fill="none"/>
<text x="508.9" y="495.8" font-size="19.5">h</text>
<text transform="translate(620.5 506.2) scale(1.32 1)" font-size="8.8" text-anchor="middle">HeLa</text>
<circle cx="637.4" cy="517.2" r="1.3" fill="none" stroke="#3c3ff0" stroke-width="0.7"/>
<circle cx="637.4" cy="525.2" r="1.3" fill="none" stroke="#ee2c2c" stroke-width="0.7"/>
<text transform="translate(645.9 520.2) scale(1.2 1)" font-size="8.2">NC</text>
<text transform="translate(645.9 528.4) scale(1.2 1)" font-size="8.2">AHR-KD</text>
<line x1="596.2" y1="531.3" x2="596.2" y2="585.1" stroke="#777" stroke-width="0.9"/>
<line x1="596.2" y1="585.1" x2="679.6" y2="585.1" stroke="#777" stroke-width="0.9"/>
<line x1="593.5" y1="531.3" x2="596.2" y2="531.3" stroke="#777" stroke-width="0.9"/>
<text transform="translate(591.6 534.6) scale(1.52 1)" font-size="9" text-anchor="end">2.0</text>
<line x1="593.5" y1="544.75" x2="596.2" y2="544.75" stroke="#777" stroke-width="0.9"/>
<text transform="translate(591.6 548.05) scale(1.52 1)" font-size="9" text-anchor="end">1.5</text>
<line x1="593.5" y1="558.2" x2="596.2" y2="558.2" stroke="#777" stroke-width="0.9"/>
<text transform="translate(591.6 561.5) scale(1.52 1)" font-size="9" text-anchor="end">1.0</text>
<line x1="593.5" y1="571.65" x2="596.2" y2="571.65" stroke="#777" stroke-width="0.9"/>
<text transform="translate(591.6 574.95) scale(1.52 1)" font-size="9" text-anchor="end">0.5</text>
<line x1="593.5" y1="585.1" x2="596.2" y2="585.1" stroke="#777" stroke-width="0.9"/>
<text transform="translate(591.6 588.4) scale(1.52 1)" font-size="9" text-anchor="end">0.0</text>
<rect x="602.5" y="549.09" width="10.4" height="35.71" fill="#7b7cf7" stroke="#6e70f4" stroke-width="0.6"/>
<rect x="619.1" y="582.17" width="10.4" height="2.63" fill="#f89494" stroke="#f47878" stroke-width="0.6"/>
<rect x="647.5" y="557.96" width="10.4" height="26.84" fill="#7b7cf7" stroke="#6e70f4" stroke-width="0.6"/>
<rect x="663.7" y="583.79" width="10.4" height="1.01" fill="#f89494" stroke="#f47878" stroke-width="0.6"/>
<line x1="615.7" y1="585.1" x2="615.7" y2="587.3" stroke="#777" stroke-width="0.9"/>
<line x1="660.3" y1="585.1" x2="660.3" y2="587.3" stroke="#777" stroke-width="0.9"/>
<line x1="607.7" y1="539.2" x2="607.7" y2="557.5" stroke="#3c3ff0" stroke-width="0.8"/>
<line x1="605.2" y1="539.2" x2="610.2" y2="539.2" stroke="#3c3ff0" stroke-width="0.8"/>
<line x1="605.2" y1="557.5" x2="610.2" y2="557.5" stroke="#3c3ff0" stroke-width="0.8"/>
<path d="M607.7 537.8L609.7 541.4L605.7 541.4Z" stroke="#3c3ff0" stroke-width="0.8" fill="none"/>
<path d="M607.7 547.9L609.3 550.78L606.1 550.78Z" stroke="#3c3ff0" stroke-width="0.8" fill="#3c3ff0"/>
<path d="M607.7 553.4L609.3 556.28L606.1 556.28Z" stroke="#3c3ff0" stroke-width="0.8" fill="#3c3ff0"/>
<circle cx="622.3" cy="581.3" r="1.2" fill="none" stroke="#ee2c2c" stroke-width="0.7"/>
<circle cx="625.8" cy="581" r="1.2" fill="none" stroke="#ee2c2c" stroke-width="0.7"/>
<line x1="621.3" y1="581" x2="627.3" y2="581" stroke="#ee2c2c" stroke-width="0.8"/>
<line x1="652.7" y1="555" x2="652.7" y2="561" stroke="#3c3ff0" stroke-width="0.8"/>
<line x1="650.2" y1="555" x2="655.2" y2="555" stroke="#3c3ff0" stroke-width="0.8"/>
<line x1="650.2" y1="561" x2="655.2" y2="561" stroke="#3c3ff0" stroke-width="0.8"/>
<path d="M652.7 554.4L654.3 557.28L651.1 557.28Z" stroke="#3c3ff0" stroke-width="0.8" fill="#3c3ff0"/>
<path d="M652.7 557.9L654.3 560.78L651.1 560.78Z" stroke="#3c3ff0" stroke-width="0.8" fill="#3c3ff0"/>
<line x1="665.4" y1="583.3" x2="672.4" y2="583.3" stroke="#ee2c2c" stroke-width="0.8"/>
<circle cx="668.9" cy="583.3" r="1.1" fill="none" stroke="#ee2c2c" stroke-width="0.7"/>
<path d="M607.7 539.2V535.2H624.4V575.2" stroke="#777" stroke-width="0.8" fill="none"/>
<path d="M652.6 554.6V551.1H668.8V581.6" stroke="#777" stroke-width="0.8" fill="none"/>
<path d="M601.98 526.5V531.5M598.98 527.65L604.98 530.35M598.98 530.35L604.98 527.65" stroke="#000" stroke-width="1.4" stroke-linecap="round" fill="none"/>
<path d="M611.33 526.5V531.5M608.33 527.65L614.33 530.35M608.33 530.35L614.33 527.65" stroke="#000" stroke-width="1.4" stroke-linecap="round" fill="none"/>
<path d="M620.68 526.5V531.5M617.68 527.65L623.68 530.35M617.68 530.35L623.68 527.65" stroke="#000" stroke-width="1.4" stroke-linecap="round" fill="none"/>
<path d="M630.02 526.5V531.5M627.02 527.65L633.02 530.35M627.02 530.35L633.02 527.65" stroke="#000" stroke-width="1.4" stroke-linecap="round" fill="none"/>
<path d="M651.25 543.4V548.4M648.25 544.55L654.25 547.25M648.25 547.25L654.25 544.55" stroke="#000" stroke-width="1.4" stroke-linecap="round" fill="none"/>
<path d="M660.6 543.4V548.4M657.6 544.55L663.6 547.25M657.6 547.25L663.6 544.55" stroke="#000" stroke-width="1.4" stroke-linecap="round" fill="none"/>
<path d="M669.95 543.4V548.4M666.95 544.55L672.95 547.25M666.95 547.25L672.95 544.55" stroke="#000" stroke-width="1.4" stroke-linecap="round" fill="none"/>
<text transform="translate(554.6 558.7) scale(1.3 1) rotate(-90)" font-size="8.8" text-anchor="middle">Relative expression</text>
<text transform="translate(569 559.5) scale(1.3 1) rotate(-90)" font-size="8.8" text-anchor="middle">to HPRT</text>
<text transform="translate(619.4 596.8) scale(1.42 1) rotate(-45)" font-size="8.6" text-anchor="end">CYP1B1-AS1</text>
<text transform="translate(664 596.8) scale(1.42 1) rotate(-45)" font-size="8.6" text-anchor="end">CYP1B1</text>
<text x="527" y="648.8" font-size="19.5">i</text>
<text transform="translate(578.6 655.7) scale(1.27 1)" font-size="9.2">THP-1 macrophage</text>
<circle cx="635.3" cy="672.2" r="1.3" fill="none" stroke="#3c3ff0" stroke-width="0.7"/>
<circle cx="635.3" cy="680.3" r="1.3" fill="none" stroke="#ee2c2c" stroke-width="0.7"/>
<text transform="translate(643.8 675.7) scale(1.28 1)" font-size="8.2">NC</text>
<text transform="translate(643.8 683.9) scale(1.28 1)" font-size="8.2">AHR-KD</text>
<line x1="590.5" y1="677.26" x2="590.5" y2="730.7" stroke="#777" stroke-width="0.9"/>
<line x1="590.5" y1="730.7" x2="672.8" y2="730.7" stroke="#777" stroke-width="0.9"/>
<line x1="587.8" y1="677.26" x2="590.5" y2="677.26" stroke="#777" stroke-width="0.9"/>
<text transform="translate(586.4 680.56) scale(1.52 1)" font-size="9" text-anchor="end">8</text>
<line x1="587.8" y1="690.62" x2="590.5" y2="690.62" stroke="#777" stroke-width="0.9"/>
<text transform="translate(586.4 693.92) scale(1.52 1)" font-size="9" text-anchor="end">6</text>
<line x1="587.8" y1="703.98" x2="590.5" y2="703.98" stroke="#777" stroke-width="0.9"/>
<text transform="translate(586.4 707.28) scale(1.52 1)" font-size="9" text-anchor="end">4</text>
<line x1="587.8" y1="717.34" x2="590.5" y2="717.34" stroke="#777" stroke-width="0.9"/>
<text transform="translate(586.4 720.64) scale(1.52 1)" font-size="9" text-anchor="end">2</text>
<line x1="587.8" y1="730.7" x2="590.5" y2="730.7" stroke="#777" stroke-width="0.9"/>
<text transform="translate(586.4 734) scale(1.52 1)" font-size="9" text-anchor="end">0</text>
<rect x="596.3" y="683.91" width="11.2" height="46.49" fill="#7b7cf7" stroke="#6e70f4" stroke-width="0.6"/>
<rect x="613.2" y="726.32" width="11.2" height="4.08" fill="#f89494" stroke="#f47878" stroke-width="0.6"/>
<rect x="640.7" y="715.3" width="11.2" height="15.1" fill="#7b7cf7" stroke="#6e70f4" stroke-width="0.6"/>
<rect x="657.1" y="730.2" width="11.2" height="0.6" fill="#f89494" stroke="#f47878" stroke-width="0.6"/>
<line x1="610.5" y1="730.7" x2="610.5" y2="732.9" stroke="#777" stroke-width="0.9"/>
<line x1="654.6" y1="730.7" x2="654.6" y2="732.9" stroke="#777" stroke-width="0.9"/>
<line x1="601.9" y1="680.3" x2="601.9" y2="685" stroke="#3c3ff0" stroke-width="0.8"/>
<line x1="599.4" y1="680.3" x2="604.4" y2="680.3" stroke="#3c3ff0" stroke-width="0.8"/>
<line x1="599.4" y1="685" x2="604.4" y2="685" stroke="#3c3ff0" stroke-width="0.8"/>
<circle cx="601.9" cy="681.5" r="1.3" fill="none" stroke="#3c3ff0" stroke-width="0.7"/>
<circle cx="600.4" cy="684" r="1.3" fill="none" stroke="#3c3ff0" stroke-width="0.7"/>
<line x1="618.8" y1="724.5" x2="618.8" y2="728.5" stroke="#ee2c2c" stroke-width="0.8"/>
<line x1="616.3" y1="724.5" x2="621.3" y2="724.5" stroke="#ee2c2c" stroke-width="0.8"/>
<line x1="616.3" y1="728.5" x2="621.3" y2="728.5" stroke="#ee2c2c" stroke-width="0.8"/>
<circle cx="617.5" cy="725" r="1.3" fill="none" stroke="#ee2c2c" stroke-width="0.7"/>
<circle cx="620.4" cy="726" r="1.3" fill="none" stroke="#ee2c2c" stroke-width="0.7"/>
<line x1="646.3" y1="713" x2="646.3" y2="717.8" stroke="#3c3ff0" stroke-width="0.8"/>
<line x1="643.8" y1="713" x2="648.8" y2="713" stroke="#3c3ff0" stroke-width="0.8"/>
<line x1="643.8" y1="717.8" x2="648.8" y2="717.8" stroke="#3c3ff0" stroke-width="0.8"/>
<circle cx="644.8" cy="714.8" r="1.3" fill="none" stroke="#3c3ff0" stroke-width="0.7"/>
<circle cx="647.8" cy="715.8" r="1.3" fill="none" stroke="#3c3ff0" stroke-width="0.7"/>
<line x1="659.2" y1="729.8" x2="666.2" y2="729.8" stroke="#ee2c2c" stroke-width="0.8"/>
<path d="M602 681V678H618.3V724" stroke="#777" stroke-width="0.8" fill="none"/>
<path d="M645.8 713V710H662.8V727" stroke="#777" stroke-width="0.8" fill="none"/>
<path d="M597.3 669.7V674.7M594.4 670.85L600.2 673.55M594.4 673.55L600.2 670.85" stroke="#000" stroke-width="1.4" stroke-linecap="round" fill="none"/>
<path d="M606.3 669.7V674.7M603.4 670.85L609.2 673.55M603.4 673.55L609.2 670.85" stroke="#000" stroke-width="1.4" stroke-linecap="round" fill="none"/>
<path d="M615.3 669.7V674.7M612.4 670.85L618.2 673.55M612.4 673.55L618.2 670.85" stroke="#000" stroke-width="1.4" stroke-linecap="round" fill="none"/>
<path d="M624.3 669.7V674.7M621.4 670.85L627.2 673.55M621.4 673.55L627.2 670.85" stroke="#000" stroke-width="1.4" stroke-linecap="round" fill="none"/>
<path d="M641 702V707M638.1 703.15L643.9 705.85M638.1 705.85L643.9 703.15" stroke="#000" stroke-width="1.4" stroke-linecap="round" fill="none"/>
<path d="M650 702V707M647.1 703.15L652.9 705.85M647.1 705.85L652.9 703.15" stroke="#000" stroke-width="1.4" stroke-linecap="round" fill="none"/>
<path d="M659 702V707M656.1 703.15L661.9 705.85M656.1 705.85L661.9 703.15" stroke="#000" stroke-width="1.4" stroke-linecap="round" fill="none"/>
<path d="M668 702V707M665.1 703.15L670.9 705.85M665.1 705.85L670.9 703.15" stroke="#000" stroke-width="1.4" stroke-linecap="round" fill="none"/>
<text transform="translate(556 704) scale(1.3 1) rotate(-90)" font-size="8.8" text-anchor="middle">Relative expression</text>
<text transform="translate(570.5 704.5) scale(1.3 1) rotate(-90)" font-size="8.8" text-anchor="middle">to HPRT</text>
<text transform="translate(613.6 744) scale(1.42 1) rotate(-45)" font-size="8.6" text-anchor="end">CYP1B1-AS1</text>
<text transform="translate(657 744) scale(1.42 1) rotate(-45)" font-size="8.6" text-anchor="end">CYP1B1</text>
<text x="0.9" y="862" font-size="19.5">j</text>
<text transform="translate(59 894) scale(1 1)" font-size="11.4">HeLa</text>
<clipPath id="c1114"><rect x="26.3" y="901" width="99.6" height="29"/></clipPath>
<g clip-path="url(#c1114)">
<rect x="26.3" y="901" width="99.6" height="29" fill="#e2e2e2"/>
<rect x="30" y="906.5" width="27" height="17" rx="6.8" fill="#c6c6c6" filter="url(#b3)"/>
<rect x="61" y="905.5" width="26" height="19" rx="7.6" fill="#c2c2c2" filter="url(#b3)"/>
</g>
<clipPath id="c1120"><rect x="26.3" y="930" width="99.6" height="31.7"/></clipPath>
<g clip-path="url(#c1120)">
<rect x="26.3" y="930" width="99.6" height="31.7" fill="#d0d0d0"/>
<rect x="29.8" y="944" width="28" height="13" rx="5.2" fill="#333" filter="url(#b3)"/>
<rect x="61.5" y="944.5" width="28" height="13" rx="5.2" fill="#383838" filter="url(#b3)"/>
<rect x="93.5" y="944.5" width="28" height="11" rx="4.4" fill="#707070" filter="url(#b3)"/>
</g>
<rect x="26.3" y="901" width="99.6" height="60.7" fill="none" stroke="#333" stroke-width="1.1"/>
<line x1="26.3" y1="930" x2="125.9" y2="930" stroke="#111" stroke-width="2"/>
<line x1="125.9" y1="901" x2="130.9" y2="901" stroke="#111" stroke-width="1.1"/>
<line x1="125.9" y1="961.7" x2="130.9" y2="961.7" stroke="#111" stroke-width="1.1"/>
<text x="132.5" y="905" font-size="10.8">75kD</text>
<text x="127.9" y="923.2" font-size="11">CYP1B1</text>
<text x="128.6" y="951.5" font-size="11.2">β-Actin</text>
<text x="132.5" y="969.6" font-size="10.8">37kD</text>
<text transform="translate(51.5 972.3) scale(1 1) rotate(-45)" font-size="12.5" text-anchor="end">UT</text>
<text transform="translate(80 972.3) scale(1 1) rotate(-45)" font-size="12.5" text-anchor="end">NC</text>
<text transform="translate(113 972.3) scale(1 1) rotate(-45)" font-size="12.5" text-anchor="end">AHR-KD</text>
<text x="165" y="866.5" font-size="19.5">k</text>
<line x1="253.9" y1="904.08" x2="253.9" y2="971.2" stroke="#777" stroke-width="1"/>
<line x1="253.9" y1="971.2" x2="333.4" y2="971.2" stroke="#555" stroke-width="1"/>
<line x1="251.2" y1="904.08" x2="253.9" y2="904.08" stroke="#777" stroke-width="1"/>
<text transform="translate(248.4 907.88) scale(1.37 1)" font-size="10.5" text-anchor="end">1.5</text>
<line x1="251.2" y1="926.45" x2="253.9" y2="926.45" stroke="#777" stroke-width="1"/>
<text transform="translate(248.4 930.25) scale(1.37 1)" font-size="10.5" text-anchor="end">1.0</text>
<line x1="251.2" y1="948.83" x2="253.9" y2="948.83" stroke="#777" stroke-width="1"/>
<text transform="translate(248.4 952.62) scale(1.37 1)" font-size="10.5" text-anchor="end">0.5</text>
<line x1="251.2" y1="971.2" x2="253.9" y2="971.2" stroke="#777" stroke-width="1"/>
<text transform="translate(248.4 975) scale(1.37 1)" font-size="10.5" text-anchor="end">0.0</text>
<rect x="262.2" y="924.21" width="15.6" height="46.99" fill="#7e7ef8"/>
<line x1="270" y1="971.2" x2="270" y2="973.7" stroke="#555" stroke-width="1"/>
<rect x="286.3" y="928.02" width="14.9" height="43.18" fill="#f88888"/>
<line x1="293.75" y1="971.2" x2="293.75" y2="973.7" stroke="#555" stroke-width="1"/>
<rect x="309.3" y="955.76" width="16" height="15.44" fill="#78dc78"/>
<line x1="317.3" y1="971.2" x2="317.3" y2="973.7" stroke="#555" stroke-width="1"/>
<text transform="translate(207.6 938) scale(1.1 1) rotate(-90)" font-size="11.2" text-anchor="middle">CYP1B1 expression</text>
<text transform="translate(224 938) scale(1.1 1) rotate(-90)" font-size="11.2" text-anchor="middle">(relative to β-Actin)</text>
<text transform="translate(267 871.3) scale(1.17 1)" font-size="11.3">HeLa</text>
<text transform="translate(275 983.7) scale(1.08 1) rotate(-45)" font-size="12.4" text-anchor="end">UT</text>
<text transform="translate(298.75 983.7) scale(1.08 1) rotate(-45)" font-size="12.4" text-anchor="end">NC</text>
<text transform="translate(322.3 983.7) scale(1.08 1) rotate(-45)" font-size="12.4" text-anchor="end">AHR-KD</text>
<line x1="270" y1="911.2" x2="270" y2="937.5" stroke="#3c3ff0" stroke-width="0.9"/>
<line x1="267" y1="911.2" x2="273" y2="911.2" stroke="#3c3ff0" stroke-width="0.9"/>
<line x1="267" y1="937.5" x2="273" y2="937.5" stroke="#3c3ff0" stroke-width="0.9"/>
<circle cx="270" cy="910.6" r="1.5" fill="#fff" stroke="#3c3ff0" stroke-width="0.8"/>
<circle cx="270" cy="926.5" r="1.6" fill="#3c3ff0"/>
<circle cx="270" cy="936" r="1.5" fill="#3c3ff0"/>
<line x1="293.75" y1="919.6" x2="293.75" y2="935.5" stroke="#ee2c2c" stroke-width="0.9"/>
<line x1="290.75" y1="919.6" x2="296.75" y2="919.6" stroke="#ee2c2c" stroke-width="0.9"/>
<line x1="290.75" y1="935.5" x2="296.75" y2="935.5" stroke="#ee2c2c" stroke-width="0.9"/>
<circle cx="293.75" cy="919.6" r="1.5" fill="#fff" stroke="#ee2c2c" stroke-width="0.8"/>
<circle cx="293.75" cy="929" r="1.5" fill="#ee2c2c"/>
<circle cx="293.75" cy="932" r="1.5" fill="#ee2c2c"/>
<line x1="317.3" y1="949.8" x2="317.3" y2="962.9" stroke="#2fbf2f" stroke-width="0.9"/>
<line x1="314.3" y1="949.8" x2="320.3" y2="949.8" stroke="#2fbf2f" stroke-width="0.9"/>
<line x1="314.3" y1="962.9" x2="320.3" y2="962.9" stroke="#2fbf2f" stroke-width="0.9"/>
<circle cx="317.3" cy="949.8" r="1.5" fill="#2fbf2f"/>
<circle cx="317.3" cy="955.5" r="1.5" fill="#2fbf2f"/>
<circle cx="317.3" cy="962" r="1.5" fill="#2fbf2f"/>
<path d="M269.3 894.3V891.3H317V947.6" stroke="#777" stroke-width="0.9" fill="none"/>
<path d="M269.3 907.5V905.5H292.9V915.8" stroke="#777" stroke-width="0.9" fill="none"/>
<path d="M293.4 879.8V886.2M289.9 881.27L296.9 884.73M289.9 884.73L296.9 881.27" stroke="#000" stroke-width="1.7" stroke-linecap="round" fill="none"/>
<text transform="translate(281.6 901.2) scale(1.13 1)" font-size="11.8" text-anchor="middle">ns</text>
<text x="346.2" y="867.6" font-size="19.5">l</text>
<text transform="translate(370 897.3) scale(1.07 1)" font-size="11.9">THP-1 macrophage</text>
<defs><linearGradient id="lg1" x1="0" x2="1" y1="0" y2="0"><stop offset="0" stop-color="#a9a9a9"/><stop offset="0.6" stop-color="#b6b6b6"/><stop offset="1" stop-color="#c2c2c2"/></linearGradient></defs>
<clipPath id="c1186"><rect x="377.1" y="906.4" width="98.2" height="30.4"/></clipPath>
<g clip-path="url(#c1186)">
<rect x="377.1" y="906.4" width="98.2" height="30.4" fill="url(#lg1)"/>
<rect x="383.5" y="919" width="26" height="11" rx="4.4" fill="#9c9c9c" filter="url(#b3)"/>
<rect x="413" y="918.5" width="25" height="11" rx="4.4" fill="#9a9a9a" filter="url(#b3)"/>
<rect x="445" y="911" width="30" height="20" rx="8" fill="#c2c2c2" filter="url(#b3)"/>
<rect x="377" y="908" width="16" height="14" rx="5.6" fill="#aeaeae" filter="url(#b3)"/>
</g>
<clipPath id="c1194"><rect x="377.1" y="936.8" width="98.2" height="31.3"/></clipPath>
<g clip-path="url(#c1194)">
<rect x="377.1" y="936.8" width="98.2" height="31.3" fill="#d6d6d6"/>
<rect x="379.5" y="947.5" width="29" height="14" rx="5.6" fill="#a0a0a0" filter="url(#b3)"/>
<rect x="410" y="948" width="27" height="13" rx="5.2" fill="#a4a4a4" filter="url(#b3)"/>
<rect x="442.5" y="948" width="30" height="13" rx="5.2" fill="#a8a8a8" filter="url(#b3)"/>
</g>
<rect x="377.1" y="906.4" width="98.2" height="61.7" fill="none" stroke="#333" stroke-width="1.1"/>
<line x1="377.1" y1="936.8" x2="475.3" y2="936.8" stroke="#111" stroke-width="2"/>
<line x1="475.3" y1="906.4" x2="480.7" y2="906.4" stroke="#111" stroke-width="1.1"/>
<line x1="475.3" y1="968.1" x2="480.7" y2="968.1" stroke="#111" stroke-width="1.1"/>
<text x="482.3" y="910.4" font-size="10.8">75kD</text>
<text x="479" y="928.4" font-size="11">CYP1B1</text>
<text x="480.7" y="956.4" font-size="11.2">β-Actin</text>
<text x="482.3" y="975.6" font-size="10.8">37kD</text>
<text transform="translate(404.8 978.5) scale(1 1) rotate(-45)" font-size="12.5" text-anchor="end">UT</text>
<text transform="translate(430.8 978.5) scale(1 1) rotate(-45)" font-size="12.5" text-anchor="end">NC</text>
<text transform="translate(463.7 978.5) scale(1 1) rotate(-45)" font-size="12.5" text-anchor="end">AHR-KD</text>
<text x="541" y="865" font-size="19.5">m</text>
<line x1="604.3" y1="901.05" x2="604.3" y2="969.3" stroke="#777" stroke-width="1"/>
<line x1="604.3" y1="969.3" x2="678.2" y2="969.3" stroke="#555" stroke-width="1"/>
<line x1="601.6" y1="901.05" x2="604.3" y2="901.05" stroke="#777" stroke-width="1"/>
<text transform="translate(600.2 904.85) scale(1.3 1)" font-size="10.5" text-anchor="end">2.5</text>
<line x1="601.6" y1="914.7" x2="604.3" y2="914.7" stroke="#777" stroke-width="1"/>
<text transform="translate(600.2 918.5) scale(1.3 1)" font-size="10.5" text-anchor="end">2.0</text>
<line x1="601.6" y1="928.35" x2="604.3" y2="928.35" stroke="#777" stroke-width="1"/>
<text transform="translate(600.2 932.15) scale(1.3 1)" font-size="10.5" text-anchor="end">1.5</text>
<line x1="601.6" y1="942" x2="604.3" y2="942" stroke="#777" stroke-width="1"/>
<text transform="translate(600.2 945.8) scale(1.3 1)" font-size="10.5" text-anchor="end">1.0</text>
<line x1="601.6" y1="955.65" x2="604.3" y2="955.65" stroke="#777" stroke-width="1"/>
<text transform="translate(600.2 959.45) scale(1.3 1)" font-size="10.5" text-anchor="end">0.5</text>
<line x1="601.6" y1="969.3" x2="604.3" y2="969.3" stroke="#777" stroke-width="1"/>
<text transform="translate(600.2 973.1) scale(1.3 1)" font-size="10.5" text-anchor="end">0.0</text>
<rect x="610.8" y="926.85" width="15.5" height="42.45" fill="#7e7ef8"/>
<line x1="618.55" y1="969.3" x2="618.55" y2="971.8" stroke="#555" stroke-width="1"/>
<rect x="633.3" y="930.81" width="14.9" height="38.49" fill="#f88888"/>
<line x1="640.75" y1="969.3" x2="640.75" y2="971.8" stroke="#555" stroke-width="1"/>
<rect x="655.8" y="960.84" width="14.3" height="8.46" fill="#78dc78"/>
<line x1="662.95" y1="969.3" x2="662.95" y2="971.8" stroke="#555" stroke-width="1"/>
<text transform="translate(561.6 935) scale(1.1 1) rotate(-90)" font-size="11.2" text-anchor="middle">CYP1B1 expression</text>
<text transform="translate(577.4 935) scale(1.1 1) rotate(-90)" font-size="11.2" text-anchor="middle">(relative to β-Actin)</text>
<text transform="translate(574.5 873.3) scale(1.07 1)" font-size="10.8">THP-1 macrophage</text>
<text transform="translate(623.55 981.8) scale(1.08 1) rotate(-45)" font-size="12.4" text-anchor="end">UT</text>
<text transform="translate(645.75 981.8) scale(1.08 1) rotate(-45)" font-size="12.4" text-anchor="end">NC</text>
<text transform="translate(667.95 981.8) scale(1.08 1) rotate(-45)" font-size="12.4" text-anchor="end">AHR-KD</text>
<line x1="618.55" y1="914.8" x2="618.55" y2="941.3" stroke="#3c3ff0" stroke-width="0.9"/>
<line x1="615.55" y1="914.8" x2="621.55" y2="914.8" stroke="#3c3ff0" stroke-width="0.9"/>
<line x1="615.55" y1="941.3" x2="621.55" y2="941.3" stroke="#3c3ff0" stroke-width="0.9"/>
<circle cx="618.55" cy="918.2" r="1.5" fill="#3c3ff0"/>
<circle cx="618.55" cy="923.4" r="1.5" fill="#3c3ff0"/>
<circle cx="618.55" cy="940.7" r="1.5" fill="#fff" stroke="#3c3ff0" stroke-width="0.8"/>
<line x1="640.75" y1="916.8" x2="640.75" y2="944.2" stroke="#ee2c2c" stroke-width="0.9"/>
<line x1="637.75" y1="916.8" x2="643.75" y2="916.8" stroke="#ee2c2c" stroke-width="0.9"/>
<line x1="637.75" y1="944.2" x2="643.75" y2="944.2" stroke="#ee2c2c" stroke-width="0.9"/>
<circle cx="640.75" cy="931.1" r="1.5" fill="#ee2c2c"/>
<circle cx="640.75" cy="944" r="1.5" fill="#ee2c2c"/>
<line x1="662.95" y1="957.1" x2="662.95" y2="966.3" stroke="#2fbf2f" stroke-width="0.9"/>
<line x1="659.95" y1="957.1" x2="665.95" y2="957.1" stroke="#2fbf2f" stroke-width="0.9"/>
<line x1="659.95" y1="966.3" x2="665.95" y2="966.3" stroke="#2fbf2f" stroke-width="0.9"/>
<circle cx="662.95" cy="960.2" r="1.5" fill="#2fbf2f"/>
<circle cx="662.95" cy="964.5" r="1.5" fill="#2fbf2f"/>
<path d="M618.2 898.4V895.4H663.1V952" stroke="#777" stroke-width="0.9" fill="none"/>
<path d="M618.2 913.1V910.1H640.6V914.2" stroke="#777" stroke-width="0.9" fill="none"/>
<path d="M641.5 884.2V890.6M638 885.67L645 889.13M638 889.13L645 885.67" stroke="#000" stroke-width="1.7" stroke-linecap="round" fill="none"/>
<text transform="translate(630 905.6) scale(1.13 1)" font-size="11.5" text-anchor="middle">ns</text>
</svg>
</body></html>
